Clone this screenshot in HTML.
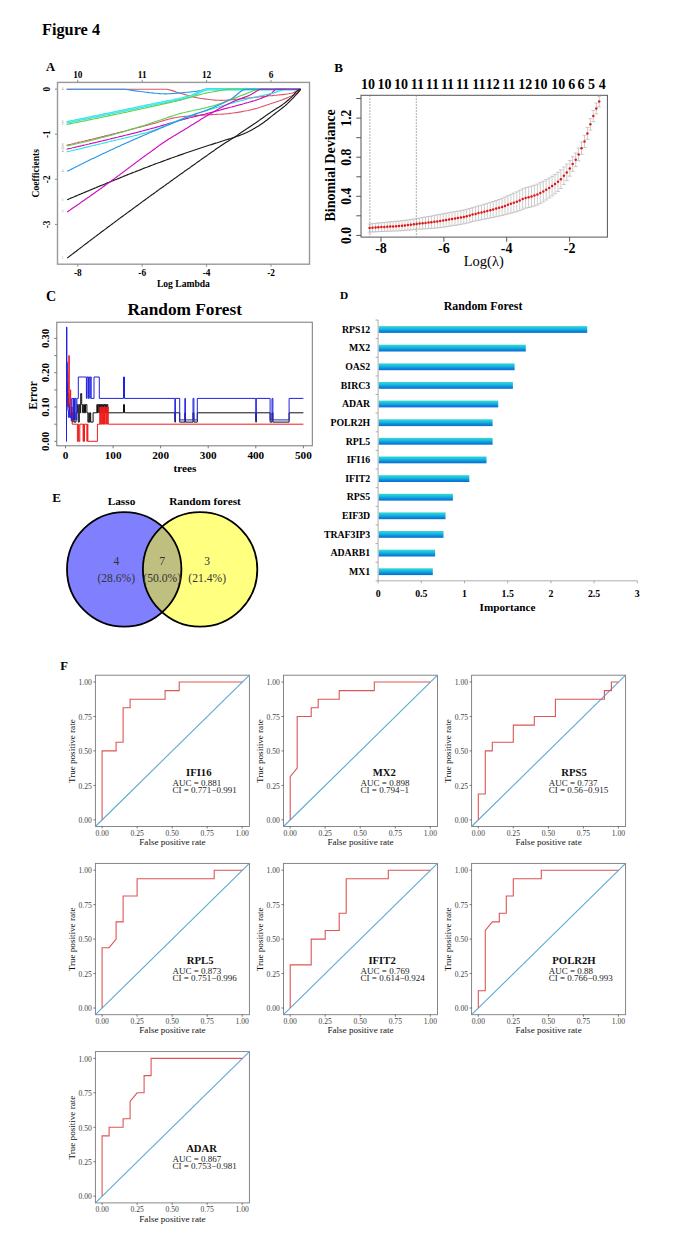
<!DOCTYPE html>
<html><head><meta charset="utf-8"><style>
html,body{margin:0;padding:0;background:#fff;}
svg{display:block;}
text{font-family:"Liberation Serif", serif;}
</style></head><body>
<svg width="685" height="1236" viewBox="0 0 685 1236" font-family='"Liberation Serif", serif'>
<rect width="685" height="1236" fill="#fff"/>
<text x="42" y="34.5" font-size="16.3" font-weight="bold">Figure 4</text>
<text x="46" y="70.5" font-size="12.6" font-weight="bold">A</text>
<rect x="57.5" y="82.4" width="252.0" height="181.79999999999998" fill="none" stroke="#999" stroke-width="1.4"/>
<line x1="77.8" y1="264.2" x2="77.8" y2="266.7" stroke="#8a8a8a"/>
<text x="77.8" y="275.8" font-size="9.3" font-weight="bold" text-anchor="middle">-8</text>
<line x1="142.2" y1="264.2" x2="142.2" y2="266.7" stroke="#8a8a8a"/>
<text x="142.2" y="275.8" font-size="9.3" font-weight="bold" text-anchor="middle">-6</text>
<line x1="206.6" y1="264.2" x2="206.6" y2="266.7" stroke="#8a8a8a"/>
<text x="206.6" y="275.8" font-size="9.3" font-weight="bold" text-anchor="middle">-4</text>
<line x1="271" y1="264.2" x2="271" y2="266.7" stroke="#8a8a8a"/>
<text x="271" y="275.8" font-size="9.3" font-weight="bold" text-anchor="middle">-2</text>
<line x1="77.8" y1="82.4" x2="77.8" y2="79.9" stroke="#8a8a8a"/>
<text x="77.8" y="77.5" font-size="9.3" font-weight="bold" text-anchor="middle">10</text>
<line x1="142.2" y1="82.4" x2="142.2" y2="79.9" stroke="#8a8a8a"/>
<text x="142.2" y="77.5" font-size="9.3" font-weight="bold" text-anchor="middle">11</text>
<line x1="206.6" y1="82.4" x2="206.6" y2="79.9" stroke="#8a8a8a"/>
<text x="206.6" y="77.5" font-size="9.3" font-weight="bold" text-anchor="middle">12</text>
<line x1="271" y1="82.4" x2="271" y2="79.9" stroke="#8a8a8a"/>
<text x="271" y="77.5" font-size="9.3" font-weight="bold" text-anchor="middle">6</text>
<line x1="57.5" y1="89.1" x2="55.0" y2="89.1" stroke="#8a8a8a"/>
<text transform="translate(50.3,89.1) rotate(-90)" font-size="9.3" font-weight="bold" text-anchor="middle">0</text>
<line x1="57.5" y1="134.2" x2="55.0" y2="134.2" stroke="#8a8a8a"/>
<text transform="translate(50.3,134.2) rotate(-90)" font-size="9.3" font-weight="bold" text-anchor="middle">-1</text>
<line x1="57.5" y1="179.3" x2="55.0" y2="179.3" stroke="#8a8a8a"/>
<text transform="translate(50.3,179.3) rotate(-90)" font-size="9.3" font-weight="bold" text-anchor="middle">-2</text>
<line x1="57.5" y1="224.4" x2="55.0" y2="224.4" stroke="#8a8a8a"/>
<text transform="translate(50.3,224.4) rotate(-90)" font-size="9.3" font-weight="bold" text-anchor="middle">-3</text>
<text transform="translate(39,173.3) rotate(-90)" font-size="9.6" font-weight="bold" text-anchor="middle">Coefficients</text>
<text x="183.4" y="287" font-size="9.6" font-weight="bold" text-anchor="middle">Log Lambda</text>
<polyline points="66.6,89.2 68.1,89.2 69.6,89.2 71.1,89.2 72.6,89.2 74.1,89.2 75.6,89.2 77.1,89.2 78.6,89.2 80.1,89.2 81.6,89.2 83.1,89.2 84.6,89.2 86.1,89.2 87.6,89.2 89.1,89.2 90.6,89.2 92.1,89.2 93.6,89.2 95.1,89.2 96.6,89.2 98.1,89.2 99.6,89.2 101.1,89.2 102.6,89.2 104.1,89.2 105.6,89.2 107.1,89.2 108.6,89.2 110.1,89.2 111.6,89.2 113.1,89.2 114.6,89.2 116.1,89.2 117.6,89.2 119.1,89.2 120.6,89.2 122.1,89.2 123.6,89.2 125.1,89.2 126.6,89.2 128.1,89.2 129.6,89.2 131.1,89.2 132.6,89.2 134.1,89.2 135.6,89.2 137.1,89.2 138.6,89.2 140.1,89.2 141.6,89.2 143.1,89.2 144.6,89.2 146.1,89.2 147.6,89.2 149.1,89.2 150.6,89.2 152.1,89.2 153.6,89.2 155.1,89.2 156.6,89.2 158.1,89.2 159.6,89.2 161.1,89.2 162.6,89.2 164.1,89.2 165.6,89.2 167.1,89.3 168.6,89.6 170.1,90 171.6,90.4 173.1,90.9 174.6,91.4 176.1,92 177.6,92.5 179.1,93 180.6,93.4 182.1,93.8 183.6,94.2 185.1,94.6 186.6,95 188.1,95.5 189.6,95.9 191.1,96.3 192.6,96.7 194.1,97.1 195.6,97.4 197.1,97.7 198.6,98 200.1,98.3 201.6,98.5 203.1,98.7 204.6,98.9 206.1,99.1 207.6,99.3 209.1,99.5 210.6,99.7 212.1,99.8 213.6,100 215.1,100.1 216.6,100.2 218.1,100.2 219.6,100.3 221.1,100.3 222.6,100.3 224.1,100.2 225.6,100.2 227.1,100.1 228.6,100 230.1,99.9 231.6,99.8 233.1,99.6 234.6,99.5 236.1,99.3 237.6,99.2 239.1,99 240.6,98.8 242.1,98.6 243.6,98.5 245.1,98.3 246.6,98.1 248.1,98 249.6,97.8 251.1,97.7 252.6,97.6 254.1,97.4 255.6,97.3 257.1,97.1 258.6,96.9 260.1,96.8 261.6,96.6 263.1,96.5 264.6,96.3 266.1,96.2 267.6,96 269.1,95.8 270.6,95.7 272.1,95.6 273.6,95.4 275.1,95.3 276.6,95.2 278.1,95 279.6,94.9 281.1,94.8 282.6,94.6 284.1,94.4 285.6,94.2 287.1,94 288.6,93.8 290.1,93.5 291.6,93.2 293.1,92.7 294.6,92.1 296.1,91.4 297.6,90.7 299.1,89.9 300.5,89.2" fill="none" stroke="#DF536B" stroke-width="1.15" stroke-linejoin="round"/>
<polyline points="66.6,89.2 68.1,89.2 69.6,89.2 71.1,89.2 72.6,89.2 74.1,89.2 75.6,89.2 77.1,89.2 78.6,89.2 80.1,89.2 81.6,89.2 83.1,89.2 84.6,89.2 86.1,89.2 87.6,89.2 89.1,89.2 90.6,89.2 92.1,89.2 93.6,89.2 95.1,89.2 96.6,89.2 98.1,89.2 99.6,89.2 101.1,89.2 102.6,89.2 104.1,89.2 105.6,89.2 107.1,89.2 108.6,89.2 110.1,89.2 111.6,89.2 113.1,89.2 114.6,89.2 116.1,89.2 117.6,89.2 119.1,89.2 120.6,89.2 122.1,89.2 123.6,89.2 125.1,89.3 126.6,89.5 128.1,89.7 129.6,89.9 131.1,90.1 132.6,90.4 134.1,90.6 135.6,90.9 137.1,91.1 138.6,91.3 140.1,91.5 141.6,91.7 143.1,91.8 144.6,92 146.1,92.2 147.6,92.4 149.1,92.6 150.6,92.7 152.1,92.9 153.6,93.1 155.1,93.2 156.6,93.3 158.1,93.5 159.6,93.6 161.1,93.7 162.6,93.7 164.1,93.8 165.6,93.8 167.1,93.8 168.6,93.7 170.1,93.7 171.6,93.6 173.1,93.5 174.6,93.4 176.1,93.2 177.6,93.1 179.1,93 180.6,92.9 182.1,92.7 183.6,92.6 185.1,92.5 186.6,92.3 188.1,92.2 189.6,92 191.1,91.9 192.6,91.7 194.1,91.5 195.6,91.4 197.1,91.2 198.6,90.9 200.1,90.7 201.6,90.4 203.1,90.1 204.6,89.9 206.1,89.7 207.6,89.5 209.1,89.4 210.6,89.4 212.1,89.4 213.6,89.4 215.1,89.4 216.6,89.4 218.1,89.4 219.6,89.4 221.1,89.3 222.6,89.3 224.1,89.3 225.6,89.3 227.1,89.3 228.6,89.3 230.1,89.3 231.6,89.3 233.1,89.3 234.6,89.3 236.1,89.3 237.6,89.3 239.1,89.3 240.6,89.3 242.1,89.3 243.6,89.3 245.1,89.3 246.6,89.3 248.1,89.3 249.6,89.2 251.1,89.2 252.6,89.2 254.1,89.2 255.6,89.2 257.1,89.2 258.6,89.2 260.1,89.2 261.6,89.2 263.1,89.2 264.6,89.2 266.1,89.2 267.6,89.2 269.1,89.2 270.6,89.2 272.1,89.2 273.6,89.2 275.1,89.2 276.6,89.2 278.1,89.2 279.6,89.2 281.1,89.2 282.6,89.2 284.1,89.2 285.6,89.2 287.1,89.2 288.6,89.2 290.1,89.2 291.6,89.2 293.1,89.2 294.6,89.2 296.1,89.2 297.6,89.2 299.1,89.2 300.5,89.2" fill="none" stroke="#2297E6" stroke-width="1.15" stroke-linejoin="round"/>
<polyline points="66.6,122.4 68.1,122.1 69.6,121.8 71.1,121.5 72.6,121.2 74.1,120.9 75.6,120.5 77.1,120.2 78.6,119.9 80.1,119.6 81.6,119.3 83.1,119 84.6,118.7 86.1,118.4 87.6,118.1 89.1,117.7 90.6,117.4 92.1,117.1 93.6,116.8 95.1,116.5 96.6,116.2 98.1,115.9 99.6,115.6 101.1,115.3 102.6,114.9 104.1,114.6 105.6,114.3 107.1,114 108.6,113.7 110.1,113.4 111.6,113.1 113.1,112.8 114.6,112.4 116.1,112.1 117.6,111.8 119.1,111.5 120.6,111.2 122.1,110.9 123.6,110.6 125.1,110.2 126.6,109.9 128.1,109.6 129.6,109.3 131.1,109 132.6,108.7 134.1,108.4 135.6,108.1 137.1,107.7 138.6,107.4 140.1,107.1 141.6,106.8 143.1,106.5 144.6,106.1 146.1,105.8 147.6,105.5 149.1,105.2 150.6,104.9 152.1,104.6 153.6,104.2 155.1,103.9 156.6,103.6 158.1,103.3 159.6,103 161.1,102.8 162.6,102.5 164.1,102.2 165.6,101.9 167.1,101.6 168.6,101.3 170.1,101 171.6,100.7 173.1,100.4 174.6,100 176.1,99.7 177.6,99.4 179.1,99.1 180.6,98.7 182.1,98.4 183.6,98 185.1,97.6 186.6,97.2 188.1,96.8 189.6,96.4 191.1,96 192.6,95.4 194.1,94.7 195.6,94 197.1,93.3 198.6,92.5 200.1,91.8 201.6,91.1 203.1,90.5 204.6,89.9 206.1,89.5 207.6,89.3 209.1,89.2 210.6,89.2 212.1,89.2 213.6,89.2 215.1,89.2 216.6,89.2 218.1,89.2 219.6,89.2 221.1,89.2 222.6,89.2 224.1,89.2 225.6,89.2 227.1,89.2 228.6,89.2 230.1,89.2 231.6,89.2 233.1,89.2 234.6,89.2 236.1,89.2 237.6,89.2 239.1,89.2 240.6,89.2 242.1,89.2 243.6,89.2 245.1,89.2 246.6,89.2 248.1,89.2 249.6,89.2 251.1,89.2 252.6,89.2 254.1,89.2 255.6,89.2 257.1,89.2 258.6,89.2 260.1,89.2 261.6,89.2 263.1,89.2 264.6,89.2 266.1,89.2 267.6,89.2 269.1,89.2 270.6,89.2 272.1,89.2 273.6,89.2 275.1,89.2 276.6,89.2 278.1,89.2 279.6,89.2 281.1,89.2 282.6,89.2 284.1,89.2 285.6,89.2 287.1,89.2 288.6,89.2 290.1,89.2 291.6,89.2 293.1,89.2 294.6,89.2 296.1,89.2 297.6,89.2 299.1,89.2 300.5,89.2" fill="none" stroke="#28E2E5" stroke-width="2.5" stroke-linejoin="round"/>
<polyline points="66.6,122.4 68.1,122.1 69.6,121.8 71.1,121.5 72.6,121.2 74.1,120.9 75.6,120.5 77.1,120.2 78.6,119.9 80.1,119.6 81.6,119.3 83.1,119 84.6,118.7 86.1,118.4 87.6,118.1 89.1,117.7 90.6,117.4 92.1,117.1 93.6,116.8 95.1,116.5 96.6,116.2 98.1,115.9 99.6,115.6 101.1,115.3 102.6,114.9 104.1,114.6 105.6,114.3 107.1,114 108.6,113.7 110.1,113.4 111.6,113.1 113.1,112.8 114.6,112.4 116.1,112.1 117.6,111.8 119.1,111.5 120.6,111.2 122.1,110.9 123.6,110.6 125.1,110.2 126.6,109.9 128.1,109.6 129.6,109.3 131.1,109 132.6,108.7 134.1,108.4 135.6,108.1 137.1,107.7 138.6,107.4 140.1,107.1 141.6,106.8 143.1,106.5 144.6,106.1 146.1,105.8 147.6,105.5 149.1,105.2 150.6,104.9 152.1,104.6 153.6,104.2 155.1,103.9 156.6,103.6 158.1,103.3 159.6,103 161.1,102.8 162.6,102.5 164.1,102.2 165.6,101.9 167.1,101.6 168.6,101.3 170.1,101 171.6,100.7 173.1,100.4 174.6,100 176.1,99.7 177.6,99.4 179.1,99.1 180.6,98.7 182.1,98.4 183.6,98 185.1,97.6 186.6,97.2 188.1,96.8 189.6,96.4 191.1,96 192.6,95.4 194.1,94.7 195.6,94 197.1,93.3 198.6,92.5 200.1,91.8 201.6,91.1 203.1,90.5 204.6,89.9 206.1,89.5 207.6,89.3 209.1,89.2 210.6,89.2 212.1,89.2 213.6,89.2 215.1,89.2 216.6,89.2 218.1,89.2 219.6,89.2 221.1,89.2 222.6,89.2 224.1,89.2 225.6,89.2 227.1,89.2 228.6,89.2 230.1,89.2 231.6,89.2 233.1,89.2 234.6,89.2 236.1,89.2 237.6,89.2 239.1,89.2 240.6,89.2 242.1,89.2 243.6,89.2 245.1,89.2 246.6,89.2 248.1,89.2 249.6,89.2 251.1,89.2 252.6,89.2 254.1,89.2 255.6,89.2 257.1,89.2 258.6,89.2 260.1,89.2 261.6,89.2 263.1,89.2 264.6,89.2 266.1,89.2 267.6,89.2 269.1,89.2 270.6,89.2 272.1,89.2 273.6,89.2 275.1,89.2 276.6,89.2 278.1,89.2 279.6,89.2 281.1,89.2 282.6,89.2 284.1,89.2 285.6,89.2 287.1,89.2 288.6,89.2 290.1,89.2 291.6,89.2 293.1,89.2 294.6,89.2 296.1,89.2 297.6,89.2 299.1,89.2 300.5,89.2" fill="none" stroke="#b8f4f4" stroke-width="0.5" stroke-linejoin="round"/>
<polyline points="66.6,124.5 68.1,124.2 69.6,123.9 71.1,123.6 72.6,123.3 74.1,123 75.6,122.7 77.1,122.4 78.6,122.1 80.1,121.8 81.6,121.5 83.1,121.2 84.6,120.9 86.1,120.6 87.6,120.2 89.1,119.9 90.6,119.6 92.1,119.3 93.6,119 95.1,118.7 96.6,118.4 98.1,118.1 99.6,117.8 101.1,117.5 102.6,117.1 104.1,116.8 105.6,116.5 107.1,116.2 108.6,115.9 110.1,115.6 111.6,115.3 113.1,114.9 114.6,114.6 116.1,114.3 117.6,114 119.1,113.7 120.6,113.4 122.1,113 123.6,112.7 125.1,112.4 126.6,112.1 128.1,111.8 129.6,111.4 131.1,111.1 132.6,110.8 134.1,110.5 135.6,110.1 137.1,109.8 138.6,109.5 140.1,109.2 141.6,108.8 143.1,108.5 144.6,108.2 146.1,107.9 147.6,107.5 149.1,107.2 150.6,106.9 152.1,106.5 153.6,106.2 155.1,105.9 156.6,105.5 158.1,105.2 159.6,104.9 161.1,104.5 162.6,104.2 164.1,103.9 165.6,103.5 167.1,103.2 168.6,102.9 170.1,102.5 171.6,102.2 173.1,101.8 174.6,101.5 176.1,101.1 177.6,100.8 179.1,100.4 180.6,100.1 182.1,99.7 183.6,99.3 185.1,98.9 186.6,98.5 188.1,98 189.6,97.6 191.1,97.2 192.6,96.7 194.1,96.3 195.6,95.9 197.1,95.4 198.6,95 200.1,94.6 201.6,94.2 203.1,93.8 204.6,93.5 206.1,93.1 207.6,92.8 209.1,92.5 210.6,92.2 212.1,92 213.6,91.7 215.1,91.4 216.6,91.1 218.1,90.9 219.6,90.6 221.1,90.3 222.6,90.1 224.1,89.9 225.6,89.7 227.1,89.5 228.6,89.4 230.1,89.3 231.6,89.2 233.1,89.2 234.6,89.2 236.1,89.2 237.6,89.2 239.1,89.2 240.6,89.2 242.1,89.2 243.6,89.2 245.1,89.2 246.6,89.2 248.1,89.2 249.6,89.2 251.1,89.2 252.6,89.2 254.1,89.2 255.6,89.2 257.1,89.2 258.6,89.2 260.1,89.2 261.6,89.2 263.1,89.2 264.6,89.2 266.1,89.2 267.6,89.2 269.1,89.2 270.6,89.2 272.1,89.2 273.6,89.2 275.1,89.2 276.6,89.2 278.1,89.2 279.6,89.2 281.1,89.2 282.6,89.2 284.1,89.2 285.6,89.2 287.1,89.2 288.6,89.2 290.1,89.2 291.6,89.2 293.1,89.2 294.6,89.2 296.1,89.2 297.6,89.2 299.1,89.2 300.5,89.2" fill="none" stroke="#61D04F" stroke-width="1.15" stroke-linejoin="round"/>
<polyline points="66.6,145.2 68.1,144.9 69.6,144.5 71.1,144.2 72.6,143.8 74.1,143.5 75.6,143.1 77.1,142.8 78.6,142.4 80.1,142 81.6,141.7 83.1,141.3 84.6,141 86.1,140.6 87.6,140.3 89.1,139.9 90.6,139.5 92.1,139.2 93.6,138.8 95.1,138.5 96.6,138.1 98.1,137.7 99.6,137.4 101.1,137 102.6,136.6 104.1,136.3 105.6,135.9 107.1,135.5 108.6,135.1 110.1,134.8 111.6,134.4 113.1,134 114.6,133.6 116.1,133.3 117.6,132.9 119.1,132.5 120.6,132.1 122.1,131.7 123.6,131.3 125.1,131 126.6,130.6 128.1,130.2 129.6,129.8 131.1,129.4 132.6,129 134.1,128.6 135.6,128.2 137.1,127.8 138.6,127.4 140.1,127.1 141.6,126.7 143.1,126.3 144.6,125.9 146.1,125.5 147.6,125.1 149.1,124.7 150.6,124.3 152.1,123.9 153.6,123.5 155.1,123.1 156.6,122.7 158.1,122.2 159.6,121.8 161.1,121.3 162.6,120.9 164.1,120.4 165.6,120 167.1,119.6 168.6,119.2 170.1,118.8 171.6,118.4 173.1,118.1 174.6,117.8 176.1,117.5 177.6,117.2 179.1,117 180.6,116.8 182.1,116.7 183.6,116.5 185.1,116.4 186.6,116.3 188.1,116.1 189.6,116 191.1,115.9 192.6,115.8 194.1,115.7 195.6,115.6 197.1,115.5 198.6,115.4 200.1,115.3 201.6,115.2 203.1,115.1 204.6,115.1 206.1,115 207.6,114.9 209.1,114.8 210.6,114.7 212.1,114.6 213.6,114.5 215.1,114.5 216.6,114.4 218.1,114.3 219.6,114.2 221.1,114.2 222.6,114.1 224.1,114 225.6,113.9 227.1,113.7 228.6,113.6 230.1,113.4 231.6,113.2 233.1,113 234.6,112.8 236.1,112.6 237.6,112.4 239.1,112.1 240.6,111.9 242.1,111.6 243.6,111.3 245.1,111 246.6,110.8 248.1,110.5 249.6,110.1 251.1,109.8 252.6,109.4 254.1,109 255.6,108.6 257.1,108.2 258.6,107.7 260.1,107.3 261.6,106.8 263.1,106.3 264.6,105.8 266.1,105.3 267.6,104.8 269.1,104.3 270.6,103.8 272.1,103.3 273.6,102.8 275.1,102.3 276.6,101.8 278.1,101.3 279.6,100.8 281.1,100.2 282.6,99.7 284.1,99.1 285.6,98.5 287.1,97.9 288.6,97.3 290.1,96.6 291.6,96 293.1,95.3 294.6,94.5 296.1,93.7 297.6,92.6 299.1,91.3 300.5,89.2" fill="none" stroke="#DF536B" stroke-width="1.15" stroke-linejoin="round"/>
<polyline points="66.6,146 68.1,145.7 69.6,145.4 71.1,145 72.6,144.7 74.1,144.4 75.6,144 77.1,143.7 78.6,143.3 80.1,143 81.6,142.7 83.1,142.3 84.6,141.9 86.1,141.6 87.6,141.2 89.1,140.9 90.6,140.5 92.1,140.1 93.6,139.8 95.1,139.4 96.6,139 98.1,138.6 99.6,138.2 101.1,137.8 102.6,137.5 104.1,137.1 105.6,136.7 107.1,136.3 108.6,135.9 110.1,135.5 111.6,135.1 113.1,134.7 114.6,134.2 116.1,133.8 117.6,133.4 119.1,133 120.6,132.5 122.1,132.1 123.6,131.7 125.1,131.2 126.6,130.8 128.1,130.3 129.6,129.9 131.1,129.4 132.6,128.9 134.1,128.5 135.6,128 137.1,127.5 138.6,127.1 140.1,126.6 141.6,126.1 143.1,125.7 144.6,125.2 146.1,124.7 147.6,124.3 149.1,123.8 150.6,123.3 152.1,122.8 153.6,122.3 155.1,121.8 156.6,121.3 158.1,120.8 159.6,120.3 161.1,119.8 162.6,119.2 164.1,118.7 165.6,118.2 167.1,117.7 168.6,117.1 170.1,116.6 171.6,116.1 173.1,115.7 174.6,115.2 176.1,114.7 177.6,114.3 179.1,113.8 180.6,113.4 182.1,113 183.6,112.7 185.1,112.3 186.6,112 188.1,111.6 189.6,111.3 191.1,111 192.6,110.7 194.1,110.3 195.6,110 197.1,109.7 198.6,109.4 200.1,109.1 201.6,108.7 203.1,108.4 204.6,108.1 206.1,107.7 207.6,107.3 209.1,106.9 210.6,106.5 212.1,106.1 213.6,105.7 215.1,105.2 216.6,104.7 218.1,104.2 219.6,103.7 221.1,103.2 222.6,102.7 224.1,102.1 225.6,101.6 227.1,101 228.6,100.5 230.1,99.9 231.6,99.3 233.1,98.7 234.6,98.1 236.1,97.6 237.6,97 239.1,96.4 240.6,95.8 242.1,95.2 243.6,94.6 245.1,94.1 246.6,93.5 248.1,92.9 249.6,92.3 251.1,91.7 252.6,91 254.1,90.3 255.6,89.7 257.1,89.3 258.6,89.2 260.1,89.2 261.6,89.2 263.1,89.2 264.6,89.2 266.1,89.2 267.6,89.2 269.1,89.2 270.6,89.2 272.1,89.2 273.6,89.2 275.1,89.2 276.6,89.2 278.1,89.2 279.6,89.2 281.1,89.2 282.6,89.2 284.1,89.2 285.6,89.2 287.1,89.2 288.6,89.2 290.1,89.2 291.6,89.2 293.1,89.2 294.6,89.2 296.1,89.2 297.6,89.2 299.1,89.2 300.5,89.2" fill="none" stroke="#61D04F" stroke-width="1.15" stroke-linejoin="round"/>
<polyline points="66.6,149.2 68.1,148.9 69.6,148.5 71.1,148.2 72.6,147.8 74.1,147.5 75.6,147.1 77.1,146.8 78.6,146.4 80.1,146.1 81.6,145.7 83.1,145.4 84.6,145 86.1,144.7 87.6,144.3 89.1,144 90.6,143.6 92.1,143.3 93.6,142.9 95.1,142.6 96.6,142.2 98.1,141.9 99.6,141.5 101.1,141.1 102.6,140.8 104.1,140.4 105.6,140.1 107.1,139.7 108.6,139.3 110.1,139 111.6,138.6 113.1,138.2 114.6,137.9 116.1,137.5 117.6,137.2 119.1,136.8 120.6,136.4 122.1,136.1 123.6,135.7 125.1,135.3 126.6,135 128.1,134.6 129.6,134.2 131.1,133.9 132.6,133.5 134.1,133.1 135.6,132.7 137.1,132.4 138.6,132 140.1,131.6 141.6,131.2 143.1,130.8 144.6,130.4 146.1,130 147.6,129.6 149.1,129.2 150.6,128.8 152.1,128.4 153.6,128 155.1,127.6 156.6,127.1 158.1,126.7 159.6,126.3 161.1,125.8 162.6,125.4 164.1,124.9 165.6,124.5 167.1,124 168.6,123.6 170.1,123.1 171.6,122.7 173.1,122.2 174.6,121.8 176.1,121.4 177.6,121 179.1,120.5 180.6,120.1 182.1,119.7 183.6,119.4 185.1,119 186.6,118.6 188.1,118.2 189.6,117.8 191.1,117.5 192.6,117.1 194.1,116.7 195.6,116.4 197.1,116 198.6,115.6 200.1,115.3 201.6,114.9 203.1,114.5 204.6,114.2 206.1,113.8 207.6,113.4 209.1,113 210.6,112.6 212.1,112.2 213.6,111.8 215.1,111.4 216.6,111 218.1,110.6 219.6,110.2 221.1,109.8 222.6,109.4 224.1,108.9 225.6,108.5 227.1,108.1 228.6,107.7 230.1,107.3 231.6,107 233.1,106.6 234.6,106.2 236.1,105.8 237.6,105.4 239.1,105 240.6,104.6 242.1,104.2 243.6,103.8 245.1,103.3 246.6,102.9 248.1,102.5 249.6,102 251.1,101.6 252.6,101.1 254.1,100.7 255.6,100.2 257.1,99.7 258.6,99.2 260.1,98.7 261.6,98.1 263.1,97.5 264.6,96.9 266.1,96.3 267.6,95.6 269.1,94.8 270.6,93.9 272.1,92.9 273.6,91.1 275.1,89.6 276.6,89.2 278.1,89.2 279.6,89.2 281.1,89.2 282.6,89.2 284.1,89.2 285.6,89.2 287.1,89.2 288.6,89.2 290.1,89.2 291.6,89.2 293.1,89.2 294.6,89.2 296.1,89.2 297.6,89.2 299.1,89.2 300.5,89.2" fill="none" stroke="#CD0BBC" stroke-width="1.15" stroke-linejoin="round"/>
<polyline points="66.6,151.9 68.1,151.5 69.6,151.2 71.1,150.8 72.6,150.5 74.1,150.1 75.6,149.8 77.1,149.4 78.6,149.1 80.1,148.7 81.6,148.4 83.1,148 84.6,147.6 86.1,147.3 87.6,146.9 89.1,146.6 90.6,146.2 92.1,145.8 93.6,145.5 95.1,145.1 96.6,144.8 98.1,144.4 99.6,144 101.1,143.7 102.6,143.3 104.1,142.9 105.6,142.6 107.1,142.2 108.6,141.8 110.1,141.5 111.6,141.1 113.1,140.8 114.6,140.4 116.1,140 117.6,139.7 119.1,139.3 120.6,139 122.1,138.6 123.6,138.3 125.1,138 126.6,137.6 128.1,137.3 129.6,136.9 131.1,136.5 132.6,136.2 134.1,135.8 135.6,135.4 137.1,135.1 138.6,134.7 140.1,134.3 141.6,133.9 143.1,133.5 144.6,133.1 146.1,132.7 147.6,132.2 149.1,131.8 150.6,131.3 152.1,130.8 153.6,130.3 155.1,129.8 156.6,129.3 158.1,128.7 159.6,128.1 161.1,127.5 162.6,126.9 164.1,126.3 165.6,125.7 167.1,125.1 168.6,124.4 170.1,123.8 171.6,123.1 173.1,122.5 174.6,121.8 176.1,121.2 177.6,120.6 179.1,120 180.6,119.3 182.1,118.7 183.6,118.1 185.1,117.5 186.6,117 188.1,116.4 189.6,115.9 191.1,115.4 192.6,114.9 194.1,114.4 195.6,113.9 197.1,113.4 198.6,113 200.1,112.5 201.6,112 203.1,111.6 204.6,111.1 206.1,110.7 207.6,110.2 209.1,109.8 210.6,109.3 212.1,108.9 213.6,108.5 215.1,108 216.6,107.6 218.1,107.2 219.6,106.7 221.1,106.3 222.6,105.9 224.1,105.5 225.6,105 227.1,104.6 228.6,104.2 230.1,103.7 231.6,103.3 233.1,102.9 234.6,102.4 236.1,102 237.6,101.6 239.1,101.2 240.6,100.8 242.1,100.4 243.6,100 245.1,99.6 246.6,99.2 248.1,98.8 249.6,98.4 251.1,98 252.6,97.7 254.1,97.3 255.6,97 257.1,96.7 258.6,96.3 260.1,96 261.6,95.7 263.1,95.4 264.6,95 266.1,94.7 267.6,94.4 269.1,94 270.6,93.7 272.1,93.3 273.6,92.9 275.1,92.4 276.6,91.9 278.1,91.3 279.6,90.7 281.1,90.2 282.6,89.8 284.1,89.5 285.6,89.4 287.1,89.4 288.6,89.3 290.1,89.3 291.6,89.3 293.1,89.2 294.6,89.2 296.1,89.2 297.6,89.2 299.1,89.2 300.5,89.2" fill="none" stroke="#28E2E5" stroke-width="1.15" stroke-linejoin="round"/>
<polyline points="67.2,171.3 68.7,170.5 70.2,169.8 71.7,169 73.2,168.2 74.7,167.5 76.2,166.7 77.7,166 79.2,165.2 80.7,164.5 82.2,163.7 83.7,163 85.2,162.2 86.7,161.5 88.2,160.8 89.7,160 91.2,159.3 92.7,158.6 94.2,157.9 95.7,157.2 97.2,156.4 98.7,155.7 100.2,155 101.7,154.3 103.2,153.6 104.7,152.9 106.2,152.2 107.7,151.5 109.2,150.8 110.7,150.1 112.2,149.4 113.7,148.7 115.2,148 116.7,147.3 118.2,146.6 119.7,146 121.2,145.3 122.7,144.6 124.2,143.9 125.7,143.3 127.2,142.6 128.7,141.9 130.2,141.3 131.7,140.6 133.2,139.9 134.7,139.3 136.2,138.6 137.7,138 139.2,137.3 140.7,136.6 142.2,136 143.7,135.3 145.2,134.7 146.7,134.1 148.2,133.4 149.7,132.8 151.2,132.1 152.7,131.5 154.2,130.9 155.7,130.2 157.2,129.6 158.7,129 160.2,128.3 161.7,127.7 163.2,127.1 164.7,126.5 166.2,125.8 167.7,125.2 169.2,124.6 170.7,124 172.2,123.4 173.7,122.8 175.2,122.2 176.7,121.5 178.2,120.9 179.7,120.3 181.2,119.7 182.7,119.1 184.2,118.5 185.7,117.9 187.2,117.3 188.7,116.7 190.2,116.1 191.7,115.5 193.2,115 194.7,114.4 196.2,113.9 197.7,113.3 199.2,112.8 200.7,112.3 202.2,111.7 203.7,111.2 205.2,110.6 206.7,110.1 208.2,109.5 209.7,108.9 211.2,108.3 212.7,107.7 214.2,107 215.7,106.4 217.2,105.7 218.7,105.1 220.2,104.4 221.7,103.7 223.2,103 224.7,102.2 226.2,101.5 227.7,100.7 229.2,100 230.7,99.2 232.2,98.3 233.7,97.2 235.2,96 236.7,94.7 238.2,93.5 239.7,92.3 241.2,91.2 242.7,90.3 244.2,89.6 245.7,89.2 247.2,89.2 248.7,89.2 250.2,89.2 251.7,89.2 253.2,89.2 254.7,89.2 256.2,89.2 257.7,89.2 259.2,89.2 260.7,89.2 262.2,89.2 263.7,89.2 265.2,89.2 266.7,89.2 268.2,89.2 269.7,89.2 271.2,89.2 272.7,89.2 274.2,89.2 275.7,89.2 277.2,89.2 278.7,89.2 280.2,89.2 281.7,89.2 283.2,89.2 284.7,89.2 286.2,89.2 287.7,89.2 289.2,89.2 290.7,89.2 292.2,89.2 293.7,89.2 295.2,89.2 296.7,89.2 298.2,89.2 299.7,89.2 300.5,89.2" fill="none" stroke="#2297E6" stroke-width="1.15" stroke-linejoin="round"/>
<polyline points="67.2,199.7 68.7,199.1 70.2,198.4 71.7,197.8 73.2,197.2 74.7,196.5 76.2,195.9 77.7,195.3 79.2,194.6 80.7,194 82.2,193.4 83.7,192.7 85.2,192.1 86.7,191.5 88.2,190.9 89.7,190.2 91.2,189.6 92.7,189 94.2,188.4 95.7,187.8 97.2,187.1 98.7,186.5 100.2,185.9 101.7,185.3 103.2,184.7 104.7,184.1 106.2,183.4 107.7,182.8 109.2,182.2 110.7,181.6 112.2,181 113.7,180.4 115.2,179.8 116.7,179.2 118.2,178.6 119.7,178 121.2,177.4 122.7,176.8 124.2,176.1 125.7,175.5 127.2,174.9 128.7,174.3 130.2,173.7 131.7,173.1 133.2,172.5 134.7,172 136.2,171.4 137.7,170.8 139.2,170.2 140.7,169.6 142.2,169 143.7,168.4 145.2,167.8 146.7,167.3 148.2,166.7 149.7,166.1 151.2,165.5 152.7,165 154.2,164.4 155.7,163.8 157.2,163.3 158.7,162.7 160.2,162.2 161.7,161.6 163.2,161.1 164.7,160.5 166.2,160 167.7,159.4 169.2,158.9 170.7,158.3 172.2,157.8 173.7,157.2 175.2,156.7 176.7,156.2 178.2,155.6 179.7,155.1 181.2,154.6 182.7,154.1 184.2,153.5 185.7,153 187.2,152.5 188.7,152 190.2,151.5 191.7,151 193.2,150.5 194.7,150 196.2,149.5 197.7,149 199.2,148.5 200.7,148 202.2,147.5 203.7,147 205.2,146.5 206.7,146 208.2,145.5 209.7,145 211.2,144.6 212.7,144.1 214.2,143.6 215.7,143.1 217.2,142.7 218.7,142.2 220.2,141.7 221.7,141.2 223.2,140.8 224.7,140.3 226.2,139.8 227.7,139.4 229.2,138.9 230.7,138.5 232.2,138 233.7,137.5 235.2,137 236.7,136.5 238.2,135.9 239.7,135.4 241.2,134.8 242.7,134.2 244.2,133.6 245.7,132.9 247.2,132.2 248.7,131.5 250.2,130.7 251.7,129.9 253.2,129.1 254.7,128.2 256.2,127.3 257.7,126.4 259.2,125.5 260.7,124.5 262.2,123.5 263.7,122.5 265.2,121.3 266.7,120.2 268.2,119 269.7,117.8 271.2,116.6 272.7,115.4 274.2,114.2 275.7,113 277.2,111.9 278.7,110.8 280.2,109.6 281.7,108.5 283.2,107.3 284.7,106.1 286.2,104.8 287.7,103.4 289.2,101.9 290.7,100.4 292.2,98.9 293.7,97.3 295.2,95.7 296.7,94.1 298.2,92.5 299.7,90.6 300.5,89.2" fill="none" stroke="#1a1a1a" stroke-width="1.15" stroke-linejoin="round"/>
<polyline points="67.2,211.9 68.7,210.9 70.2,209.9 71.7,208.8 73.2,207.8 74.7,206.8 76.2,205.8 77.7,204.7 79.2,203.7 80.7,202.6 82.2,201.6 83.7,200.6 85.2,199.5 86.7,198.5 88.2,197.4 89.7,196.4 91.2,195.3 92.7,194.3 94.2,193.2 95.7,192.1 97.2,191.1 98.7,190 100.2,188.9 101.7,187.9 103.2,186.8 104.7,185.7 106.2,184.6 107.7,183.6 109.2,182.5 110.7,181.4 112.2,180.3 113.7,179.2 115.2,178.1 116.7,177 118.2,175.9 119.7,174.8 121.2,173.6 122.7,172.5 124.2,171.4 125.7,170.3 127.2,169.1 128.7,168 130.2,166.9 131.7,165.8 133.2,164.6 134.7,163.5 136.2,162.4 137.7,161.3 139.2,160.1 140.7,159 142.2,157.9 143.7,156.8 145.2,155.7 146.7,154.6 148.2,153.6 149.7,152.5 151.2,151.4 152.7,150.3 154.2,149.2 155.7,148.1 157.2,147 158.7,145.9 160.2,144.8 161.7,143.8 163.2,142.7 164.7,141.7 166.2,140.7 167.7,139.7 169.2,138.8 170.7,137.9 172.2,136.9 173.7,136.1 175.2,135.2 176.7,134.3 178.2,133.4 179.7,132.5 181.2,131.6 182.7,130.7 184.2,129.7 185.7,128.8 187.2,127.9 188.7,126.9 190.2,126 191.7,125.1 193.2,124.2 194.7,123.2 196.2,122.3 197.7,121.4 199.2,120.5 200.7,119.5 202.2,118.6 203.7,117.7 205.2,116.8 206.7,115.9 208.2,115.1 209.7,114.2 211.2,113.3 212.7,112.4 214.2,111.6 215.7,110.7 217.2,109.8 218.7,109 220.2,108.1 221.7,107.3 223.2,106.4 224.7,105.6 226.2,104.9 227.7,104.1 229.2,103.4 230.7,102.7 232.2,102 233.7,101.4 235.2,100.8 236.7,100.2 238.2,99.6 239.7,99.1 241.2,98.5 242.7,97.9 244.2,97.4 245.7,96.8 247.2,96.2 248.7,95.6 250.2,94.9 251.7,94.1 253.2,93.2 254.7,92.3 256.2,91.3 257.7,90.5 259.2,89.8 260.7,89.3 262.2,89.2 263.7,89.2 265.2,89.2 266.7,89.2 268.2,89.2 269.7,89.2 271.2,89.2 272.7,89.2 274.2,89.2 275.7,89.2 277.2,89.2 278.7,89.2 280.2,89.2 281.7,89.2 283.2,89.2 284.7,89.2 286.2,89.2 287.7,89.2 289.2,89.2 290.7,89.2 292.2,89.2 293.7,89.2 295.2,89.2 296.7,89.2 298.2,89.2 299.7,89.2 300.5,89.2" fill="none" stroke="#CD0BBC" stroke-width="1.15" stroke-linejoin="round"/>
<polyline points="67.2,258.1 68.7,256.9 70.2,255.8 71.7,254.6 73.2,253.5 74.7,252.3 76.2,251.2 77.7,250 79.2,248.9 80.7,247.7 82.2,246.6 83.7,245.4 85.2,244.3 86.7,243.2 88.2,242 89.7,240.9 91.2,239.8 92.7,238.6 94.2,237.5 95.7,236.4 97.2,235.2 98.7,234.1 100.2,233 101.7,231.8 103.2,230.7 104.7,229.6 106.2,228.5 107.7,227.3 109.2,226.2 110.7,225.1 112.2,224 113.7,222.9 115.2,221.8 116.7,220.6 118.2,219.5 119.7,218.4 121.2,217.3 122.7,216.2 124.2,215.1 125.7,214 127.2,212.9 128.7,211.8 130.2,210.7 131.7,209.6 133.2,208.5 134.7,207.4 136.2,206.3 137.7,205.2 139.2,204.1 140.7,203 142.2,201.9 143.7,200.8 145.2,199.7 146.7,198.6 148.2,197.5 149.7,196.4 151.2,195.3 152.7,194.3 154.2,193.2 155.7,192.1 157.2,191 158.7,189.9 160.2,188.8 161.7,187.8 163.2,186.7 164.7,185.6 166.2,184.5 167.7,183.4 169.2,182.4 170.7,181.3 172.2,180.2 173.7,179.1 175.2,178.1 176.7,177 178.2,175.9 179.7,174.8 181.2,173.8 182.7,172.7 184.2,171.6 185.7,170.6 187.2,169.5 188.7,168.4 190.2,167.4 191.7,166.3 193.2,165.2 194.7,164.2 196.2,163.1 197.7,162 199.2,161 200.7,159.9 202.2,158.8 203.7,157.8 205.2,156.7 206.7,155.7 208.2,154.6 209.7,153.5 211.2,152.5 212.7,151.4 214.2,150.4 215.7,149.3 217.2,148.3 218.7,147.3 220.2,146.3 221.7,145.3 223.2,144.3 224.7,143.3 226.2,142.3 227.7,141.4 229.2,140.5 230.7,139.6 232.2,138.6 233.7,137.7 235.2,136.7 236.7,135.7 238.2,134.6 239.7,133.5 241.2,132.5 242.7,131.5 244.2,130.5 245.7,129.5 247.2,128.6 248.7,127.6 250.2,126.6 251.7,125.6 253.2,124.6 254.7,123.6 256.2,122.5 257.7,121.5 259.2,120.4 260.7,119.3 262.2,118.3 263.7,117.2 265.2,116.1 266.7,115.1 268.2,114 269.7,113 271.2,111.9 272.7,110.9 274.2,110 275.7,109.1 277.2,108.1 278.7,107.2 280.2,106.2 281.7,105.2 283.2,104.1 284.7,103 286.2,101.8 287.7,100.5 289.2,99.2 290.7,97.8 292.2,96.3 293.7,94.7 295.2,92.8 296.7,91.3 298.2,90.3 299.7,89.5 300.5,89.2" fill="none" stroke="#1a1a1a" stroke-width="1.15" stroke-linejoin="round"/>
<text x="62.6" y="90.3" font-size="3.4" fill="#888" text-anchor="middle">4</text>
<text x="62.6" y="122.8" font-size="3.4" fill="#888" text-anchor="middle">2</text>
<text x="62.6" y="124.5" font-size="3.4" fill="#888" text-anchor="middle">2</text>
<text x="62.6" y="146.4" font-size="3.4" fill="#888" text-anchor="middle">8</text>
<text x="62.6" y="148.9" font-size="3.4" fill="#888" text-anchor="middle">10</text>
<text x="62.6" y="151.7" font-size="3.4" fill="#888" text-anchor="middle">4</text>
<text x="62.6" y="172.4" font-size="3.4" fill="#888" text-anchor="middle">4</text>
<text x="62.6" y="200.8" font-size="3.4" fill="#888" text-anchor="middle">1</text>
<text x="62.6" y="213" font-size="3.4" fill="#888" text-anchor="middle">7</text>
<text x="62.6" y="259.2" font-size="3.4" fill="#888" text-anchor="middle">1</text>
<text x="334.3" y="71.6" font-size="13" font-weight="bold">B</text>
<rect x="361" y="95.3" width="246.39999999999998" height="141.8" fill="none" stroke="#555" stroke-width="1"/>
<line x1="381" y1="237.1" x2="381" y2="241.7" stroke="#555"/>
<text x="381" y="253.3" font-size="14" font-weight="bold" text-anchor="middle">-8</text>
<line x1="443.9" y1="237.1" x2="443.9" y2="241.7" stroke="#555"/>
<text x="443.9" y="253.3" font-size="14" font-weight="bold" text-anchor="middle">-6</text>
<line x1="506.7" y1="237.1" x2="506.7" y2="241.7" stroke="#555"/>
<text x="506.7" y="253.3" font-size="14" font-weight="bold" text-anchor="middle">-4</text>
<line x1="569.6" y1="237.1" x2="569.6" y2="241.7" stroke="#555"/>
<text x="569.6" y="253.3" font-size="14" font-weight="bold" text-anchor="middle">-2</text>
<line x1="361" y1="235.4" x2="356.3" y2="235.4" stroke="#555"/>
<line x1="361" y1="215.8" x2="356.3" y2="215.8" stroke="#555"/>
<line x1="361" y1="196.3" x2="356.3" y2="196.3" stroke="#555"/>
<line x1="361" y1="176.8" x2="356.3" y2="176.8" stroke="#555"/>
<line x1="361" y1="157.2" x2="356.3" y2="157.2" stroke="#555"/>
<line x1="361" y1="137.7" x2="356.3" y2="137.7" stroke="#555"/>
<line x1="361" y1="118.1" x2="356.3" y2="118.1" stroke="#555"/>
<line x1="361" y1="98.5" x2="356.3" y2="98.5" stroke="#555"/>
<text transform="translate(351,235.4) rotate(-90)" font-size="13.6" font-weight="bold" text-anchor="middle">0.0</text>
<text transform="translate(351,196.3) rotate(-90)" font-size="13.6" font-weight="bold" text-anchor="middle">0.4</text>
<text transform="translate(351,157.2) rotate(-90)" font-size="13.6" font-weight="bold" text-anchor="middle">0.8</text>
<text transform="translate(351,118.1) rotate(-90)" font-size="13.6" font-weight="bold" text-anchor="middle">1.2</text>
<text transform="translate(335,165.4) rotate(-90)" font-size="14" font-weight="bold" text-anchor="middle">Binomial Deviance</text>
<text x="483.8" y="266.3" font-size="14.5" text-anchor="middle">Log(λ)</text>
<text x="368" y="89" font-size="14" font-weight="bold" text-anchor="middle">10</text>
<text x="384.6" y="89" font-size="14" font-weight="bold" text-anchor="middle">10</text>
<text x="400.9" y="89" font-size="14" font-weight="bold" text-anchor="middle">10</text>
<text x="417.4" y="89" font-size="14" font-weight="bold" text-anchor="middle">11</text>
<text x="432.4" y="89" font-size="14" font-weight="bold" text-anchor="middle">11</text>
<text x="447.5" y="89" font-size="14" font-weight="bold" text-anchor="middle">11</text>
<text x="462.7" y="89" font-size="14" font-weight="bold" text-anchor="middle">11</text>
<text x="478.8" y="89" font-size="14" font-weight="bold" text-anchor="middle">11</text>
<text x="492.8" y="89" font-size="14" font-weight="bold" text-anchor="middle">12</text>
<text x="508.6" y="89" font-size="14" font-weight="bold" text-anchor="middle">11</text>
<text x="525.3" y="89" font-size="14" font-weight="bold" text-anchor="middle">12</text>
<text x="540.4" y="89" font-size="14" font-weight="bold" text-anchor="middle">10</text>
<text x="558.2" y="89" font-size="14" font-weight="bold" text-anchor="middle">10</text>
<text x="571.7" y="89" font-size="14" font-weight="bold" text-anchor="middle">6</text>
<text x="581" y="89" font-size="14" font-weight="bold" text-anchor="middle">6</text>
<text x="591.5" y="89" font-size="14" font-weight="bold" text-anchor="middle">5</text>
<text x="602.2" y="89" font-size="14" font-weight="bold" text-anchor="middle">4</text>
<line x1="369.9" y1="95.3" x2="369.9" y2="237.1" stroke="#777" stroke-width="0.8" stroke-dasharray="1.5,1.5"/>
<line x1="416.3" y1="95.3" x2="416.3" y2="237.1" stroke="#777" stroke-width="0.8" stroke-dasharray="1.5,1.5"/>
<path d="M369.6 224V232.2M367.6 224h4M367.6 232.2h4M372.5 223.6V232M370.5 223.6h4M370.5 232h4M375.5 223.3V231.8M373.5 223.3h4M373.5 231.8h4M378.4 223V231.7M376.4 223h4M376.4 231.7h4M381.4 222.7V231.5M379.4 222.7h4M379.4 231.5h4M384.3 222.4V231.4M382.3 222.4h4M382.3 231.4h4M387.3 222.1V231.3M385.3 222.1h4M385.3 231.3h4M390.2 221.8V231.2M388.2 221.8h4M388.2 231.2h4M393.1 221.6V231.1M391.1 221.6h4M391.1 231.1h4M396.1 221.3V231M394.1 221.3h4M394.1 231h4M399 221V230.9M397 221h4M397 230.9h4M402 220.7V230.7M400 220.7h4M400 230.7h4M404.9 220.3V230.4M402.9 220.3h4M402.9 230.4h4M407.9 219.9V230.2M405.9 219.9h4M405.9 230.2h4M410.8 219.4V229.9M408.8 219.4h4M408.8 229.9h4M413.8 219V229.6M411.8 219h4M411.8 229.6h4M416.7 218.6V229.4M414.7 218.6h4M414.7 229.4h4M419.6 218.1V229.2M417.6 218.1h4M417.6 229.2h4M422.6 217.5V229M420.6 217.5h4M420.6 229h4M425.5 217V228.8M423.5 217h4M423.5 228.8h4M428.5 216.5V228.6M426.5 216.5h4M426.5 228.6h4M431.4 216V228.4M429.4 216h4M429.4 228.4h4M434.4 215.4V228.2M432.4 215.4h4M432.4 228.2h4M437.3 214.8V227.9M435.3 214.8h4M435.3 227.9h4M440.2 214.3V227.7M438.2 214.3h4M438.2 227.7h4M443.2 213.7V227.3M441.2 213.7h4M441.2 227.3h4M446.1 213.2V226.8M444.1 213.2h4M444.1 226.8h4M449.1 212.6V226.3M447.1 212.6h4M447.1 226.3h4M452 212.1V225.8M450 212.1h4M450 225.8h4M455 211.6V225.3M453 211.6h4M453 225.3h4M457.9 211.1V224.9M455.9 211.1h4M455.9 224.9h4M460.9 210.6V224.4M458.9 210.6h4M458.9 224.4h4M463.8 210V223.8M461.8 210h4M461.8 223.8h4M466.7 209.3V223.2M464.7 209.3h4M464.7 223.2h4M469.7 208.5V222.4M467.7 208.5h4M467.7 222.4h4M472.6 207.6V221.6M470.6 207.6h4M470.6 221.6h4M475.6 206.8V220.9M473.6 206.8h4M473.6 220.9h4M478.5 205.9V220.3M476.5 205.9h4M476.5 220.3h4M481.5 205.1V219.7M479.5 205.1h4M479.5 219.7h4M484.4 204.2V219.2M482.4 204.2h4M482.4 219.2h4M487.3 203.3V218.6M485.3 203.3h4M485.3 218.6h4M490.3 202.4V218M488.3 202.4h4M488.3 218h4M493.2 201.5V217.4M491.2 201.5h4M491.2 217.4h4M496.2 200.5V216.7M494.2 200.5h4M494.2 216.7h4M499.1 199.5V216.1M497.1 199.5h4M497.1 216.1h4M502.1 198.3V215.4M500.1 198.3h4M500.1 215.4h4M505 197V214.7M503 197h4M503 214.7h4M507.9 195.7V213.9M505.9 195.7h4M505.9 213.9h4M510.9 194.4V213.2M508.9 194.4h4M508.9 213.2h4M513.8 193.1V212.4M511.8 193.1h4M511.8 212.4h4M516.8 191.8V211.6M514.8 191.8h4M514.8 211.6h4M519.7 190.3V210.7M517.7 190.3h4M517.7 210.7h4M522.7 188.9V209.4M520.7 188.9h4M520.7 209.4h4M525.6 187.6V208.2M523.6 187.6h4M523.6 208.2h4M528.6 186.9V207.5M526.6 186.9h4M526.6 207.5h4M531.5 186.1V206.9M529.5 186.1h4M529.5 206.9h4M534.4 185.2V206M532.4 185.2h4M532.4 206h4M537.4 184V205M535.4 184h4M535.4 205h4M540.3 182.6V203.6M538.3 182.6h4M538.3 203.6h4M543.3 181.2V201.9M541.3 181.2h4M541.3 201.9h4M546.2 179.6V200M544.2 179.6h4M544.2 200h4M549.2 177.9V198M547.2 177.9h4M547.2 198h4M552.1 176.2V196M550.1 176.2h4M550.1 196h4M555 174.4V193.9M553 174.4h4M553 193.9h4M558 172.2V191.4M556 172.2h4M556 191.4h4M560.9 169.8V188.5M558.9 169.8h4M558.9 188.5h4M563.9 166.9V184.6M561.9 166.9h4M561.9 184.6h4M566.8 164.1V180.7M564.8 164.1h4M564.8 180.7h4M569.8 160.6V176.2M567.8 160.6h4M567.8 176.2h4M572.7 156.7V171.3M570.7 156.7h4M570.7 171.3h4M575.7 153V166.6M573.7 153h4M573.7 166.6h4M578.6 148.2V160.9M576.6 148.2h4M576.6 160.9h4M581.5 142V154.4M579.5 142h4M579.5 154.4h4M584.5 135.3V147.5M582.5 135.3h4M582.5 147.5h4M587.4 127.4V139.3M585.4 127.4h4M585.4 139.3h4M590.4 118.6V130.1M588.4 118.6h4M588.4 130.1h4M593.3 110.4V121.7M591.3 110.4h4M591.3 121.7h4M596.3 103V113.9M594.3 103h4M594.3 113.9h4M599.2 96.3V106.9M597.2 96.3h4M597.2 106.9h4" stroke="#aaa" stroke-width="0.6" fill="none"/>
<circle cx="369.6" cy="228.1" r="1.25" fill="#e01818"/>
<circle cx="372.5" cy="227.8" r="1.25" fill="#e01818"/>
<circle cx="375.5" cy="227.6" r="1.25" fill="#e01818"/>
<circle cx="378.4" cy="227.3" r="1.25" fill="#e01818"/>
<circle cx="381.4" cy="227.1" r="1.25" fill="#e01818"/>
<circle cx="384.3" cy="226.9" r="1.25" fill="#e01818"/>
<circle cx="387.3" cy="226.7" r="1.25" fill="#e01818"/>
<circle cx="390.2" cy="226.5" r="1.25" fill="#e01818"/>
<circle cx="393.1" cy="226.4" r="1.25" fill="#e01818"/>
<circle cx="396.1" cy="226.2" r="1.25" fill="#e01818"/>
<circle cx="399" cy="225.9" r="1.25" fill="#e01818"/>
<circle cx="402" cy="225.7" r="1.25" fill="#e01818"/>
<circle cx="404.9" cy="225.4" r="1.25" fill="#e01818"/>
<circle cx="407.9" cy="225" r="1.25" fill="#e01818"/>
<circle cx="410.8" cy="224.7" r="1.25" fill="#e01818"/>
<circle cx="413.8" cy="224.3" r="1.25" fill="#e01818"/>
<circle cx="416.7" cy="224" r="1.25" fill="#e01818"/>
<circle cx="419.6" cy="223.6" r="1.25" fill="#e01818"/>
<circle cx="422.6" cy="223.3" r="1.25" fill="#e01818"/>
<circle cx="425.5" cy="222.9" r="1.25" fill="#e01818"/>
<circle cx="428.5" cy="222.6" r="1.25" fill="#e01818"/>
<circle cx="431.4" cy="222.2" r="1.25" fill="#e01818"/>
<circle cx="434.4" cy="221.8" r="1.25" fill="#e01818"/>
<circle cx="437.3" cy="221.4" r="1.25" fill="#e01818"/>
<circle cx="440.2" cy="221" r="1.25" fill="#e01818"/>
<circle cx="443.2" cy="220.5" r="1.25" fill="#e01818"/>
<circle cx="446.1" cy="220" r="1.25" fill="#e01818"/>
<circle cx="449.1" cy="219.5" r="1.25" fill="#e01818"/>
<circle cx="452" cy="218.9" r="1.25" fill="#e01818"/>
<circle cx="455" cy="218.5" r="1.25" fill="#e01818"/>
<circle cx="457.9" cy="218" r="1.25" fill="#e01818"/>
<circle cx="460.9" cy="217.5" r="1.25" fill="#e01818"/>
<circle cx="463.8" cy="216.9" r="1.25" fill="#e01818"/>
<circle cx="466.7" cy="216.2" r="1.25" fill="#e01818"/>
<circle cx="469.7" cy="215.4" r="1.25" fill="#e01818"/>
<circle cx="472.6" cy="214.6" r="1.25" fill="#e01818"/>
<circle cx="475.6" cy="213.9" r="1.25" fill="#e01818"/>
<circle cx="478.5" cy="213.1" r="1.25" fill="#e01818"/>
<circle cx="481.5" cy="212.4" r="1.25" fill="#e01818"/>
<circle cx="484.4" cy="211.7" r="1.25" fill="#e01818"/>
<circle cx="487.3" cy="210.9" r="1.25" fill="#e01818"/>
<circle cx="490.3" cy="210.2" r="1.25" fill="#e01818"/>
<circle cx="493.2" cy="209.4" r="1.25" fill="#e01818"/>
<circle cx="496.2" cy="208.6" r="1.25" fill="#e01818"/>
<circle cx="499.1" cy="207.8" r="1.25" fill="#e01818"/>
<circle cx="502.1" cy="206.9" r="1.25" fill="#e01818"/>
<circle cx="505" cy="205.9" r="1.25" fill="#e01818"/>
<circle cx="507.9" cy="204.8" r="1.25" fill="#e01818"/>
<circle cx="510.9" cy="203.8" r="1.25" fill="#e01818"/>
<circle cx="513.8" cy="202.7" r="1.25" fill="#e01818"/>
<circle cx="516.8" cy="201.7" r="1.25" fill="#e01818"/>
<circle cx="519.7" cy="200.5" r="1.25" fill="#e01818"/>
<circle cx="522.7" cy="199.1" r="1.25" fill="#e01818"/>
<circle cx="525.6" cy="197.9" r="1.25" fill="#e01818"/>
<circle cx="528.6" cy="197.2" r="1.25" fill="#e01818"/>
<circle cx="531.5" cy="196.5" r="1.25" fill="#e01818"/>
<circle cx="534.4" cy="195.6" r="1.25" fill="#e01818"/>
<circle cx="537.4" cy="194.5" r="1.25" fill="#e01818"/>
<circle cx="540.3" cy="193.1" r="1.25" fill="#e01818"/>
<circle cx="543.3" cy="191.5" r="1.25" fill="#e01818"/>
<circle cx="546.2" cy="189.8" r="1.25" fill="#e01818"/>
<circle cx="549.2" cy="188" r="1.25" fill="#e01818"/>
<circle cx="552.1" cy="186.1" r="1.25" fill="#e01818"/>
<circle cx="555" cy="184.1" r="1.25" fill="#e01818"/>
<circle cx="558" cy="181.8" r="1.25" fill="#e01818"/>
<circle cx="560.9" cy="179.2" r="1.25" fill="#e01818"/>
<circle cx="563.9" cy="175.8" r="1.25" fill="#e01818"/>
<circle cx="566.8" cy="172.4" r="1.25" fill="#e01818"/>
<circle cx="569.8" cy="168.4" r="1.25" fill="#e01818"/>
<circle cx="572.7" cy="164" r="1.25" fill="#e01818"/>
<circle cx="575.7" cy="159.8" r="1.25" fill="#e01818"/>
<circle cx="578.6" cy="154.5" r="1.25" fill="#e01818"/>
<circle cx="581.5" cy="148.2" r="1.25" fill="#e01818"/>
<circle cx="584.5" cy="141.4" r="1.25" fill="#e01818"/>
<circle cx="587.4" cy="133.4" r="1.25" fill="#e01818"/>
<circle cx="590.4" cy="124.3" r="1.25" fill="#e01818"/>
<circle cx="593.3" cy="116.1" r="1.25" fill="#e01818"/>
<circle cx="596.3" cy="108.4" r="1.25" fill="#e01818"/>
<circle cx="599.2" cy="101.6" r="1.25" fill="#e01818"/>
<text x="46" y="301" font-size="14" font-weight="bold">C</text>
<text x="184.8" y="315.2" font-size="17.3" font-weight="bold" text-anchor="middle">Random Forest</text>
<rect x="56.8" y="322.2" width="255.5" height="123.60000000000002" fill="none" stroke="#777" stroke-width="1"/>
<line x1="65.5" y1="445.8" x2="65.5" y2="448.3" stroke="#777"/>
<text x="65.5" y="458.7" font-size="11.2" font-weight="bold" text-anchor="middle">0</text>
<line x1="113.1" y1="445.8" x2="113.1" y2="448.3" stroke="#777"/>
<text x="113.1" y="458.7" font-size="11.2" font-weight="bold" text-anchor="middle">100</text>
<line x1="160.6" y1="445.8" x2="160.6" y2="448.3" stroke="#777"/>
<text x="160.6" y="458.7" font-size="11.2" font-weight="bold" text-anchor="middle">200</text>
<line x1="208.2" y1="445.8" x2="208.2" y2="448.3" stroke="#777"/>
<text x="208.2" y="458.7" font-size="11.2" font-weight="bold" text-anchor="middle">300</text>
<line x1="255.8" y1="445.8" x2="255.8" y2="448.3" stroke="#777"/>
<text x="255.8" y="458.7" font-size="11.2" font-weight="bold" text-anchor="middle">400</text>
<line x1="303.4" y1="445.8" x2="303.4" y2="448.3" stroke="#777"/>
<text x="303.4" y="458.7" font-size="11.2" font-weight="bold" text-anchor="middle">500</text>
<line x1="56.8" y1="441.3" x2="54.3" y2="441.3" stroke="#777"/>
<line x1="56.8" y1="424.2" x2="54.3" y2="424.2" stroke="#777"/>
<line x1="56.8" y1="407" x2="54.3" y2="407" stroke="#777"/>
<line x1="56.8" y1="389.9" x2="54.3" y2="389.9" stroke="#777"/>
<line x1="56.8" y1="372.7" x2="54.3" y2="372.7" stroke="#777"/>
<line x1="56.8" y1="355.6" x2="54.3" y2="355.6" stroke="#777"/>
<line x1="56.8" y1="338.4" x2="54.3" y2="338.4" stroke="#777"/>
<text transform="translate(48.7,441.3) rotate(-90)" font-size="11" font-weight="bold" text-anchor="middle">0.00</text>
<text transform="translate(48.7,407) rotate(-90)" font-size="11" font-weight="bold" text-anchor="middle">0.10</text>
<text transform="translate(48.7,372.7) rotate(-90)" font-size="11" font-weight="bold" text-anchor="middle">0.20</text>
<text transform="translate(48.7,338.4) rotate(-90)" font-size="11" font-weight="bold" text-anchor="middle">0.30</text>
<text transform="translate(37.3,395.4) rotate(-90)" font-size="11.5" font-weight="bold" text-anchor="middle">Error</text>
<text x="185" y="472.4" font-size="11.3" font-weight="bold" text-anchor="middle">trees</text>
<polyline points="66,389.9 66.5,389.9 66.5,400.1 66.9,400.1 66.9,389.9 67.4,389.9 67.4,396.7 67.9,396.7 67.9,407 68.4,407 68.4,393.3 68.8,393.3 68.8,403.6 69.3,403.6 69.3,412.8 70.3,412.8 70.3,417.3 71.2,417.3 71.2,412.8 72.2,412.8 72.2,422.1 73.1,422.1 73.1,412.8 74.1,412.8 74.1,422.1 76,422.1 76,412.8 77.4,412.8 77.4,404.6 78.3,404.6 78.3,422.1 79.3,422.1 79.3,404.6 80.2,404.6 80.2,412.8 80.7,412.8 80.7,393.6 81.7,393.6 81.7,404.6 82.6,404.6 82.6,412.8 83.6,412.8 83.6,404.6 84.5,404.6 84.5,412.8 85.5,412.8 85.5,404.6 86.9,404.6 86.9,412.8 87.9,412.8 87.9,422.1 88.8,422.1 88.8,412.8 89.3,412.8 89.3,422.1 90.2,422.1 90.2,412.8 90.7,412.8 90.7,422.1 93.1,422.1 93.1,412.8 96.9,412.8 96.9,404.6 97.4,404.6 97.4,412.8 97.8,412.8 97.8,404.6 98.8,404.6 98.8,412.8 99.3,412.8 99.3,404.6 99.8,404.6 99.8,412.8 100.2,412.8 100.2,404.6 100.7,404.6 100.7,412.8 101.2,412.8 101.2,404.6 102.1,404.6 102.1,412.8 102.6,412.8 102.6,404.6 103.6,404.6 103.6,412.8 104,412.8 104,404.6 105,404.6 105,412.8 105.5,412.8 105.5,404.6 106.4,404.6 106.4,412.8 106.9,412.8 106.9,404.6 107.8,404.6 107.8,412.8 123.5,412.8 123.5,404.6 124.5,404.6 124.5,412.8 174.9,412.8 174.9,422.1 175.4,422.1 175.4,412.8 179.7,412.8 179.7,422.1 184.9,422.1 184.9,412.8 185.4,412.8 185.4,422.1 193,422.1 193,412.8 193.9,412.8 193.9,422.1 197.3,422.1 197.3,412.8 255.8,412.8 255.8,422.1 256.3,422.1 256.3,412.8 270.1,412.8 270.1,422.1 272,422.1 272,412.8 272.9,412.8 272.9,422.1 289.1,422.1 289.1,412.8 303.4,412.8 303.4,412.8" fill="none" stroke="#111" stroke-width="1"/>
<polyline points="66,407 66.5,407 66.5,389.9 66.9,389.9 66.9,400.1 67.4,400.1 67.4,383 67.9,383 67.9,407 68.4,407 68.4,372.7 68.8,372.7 68.8,355.6 69.3,355.6 69.3,389.9 69.8,389.9 69.8,407 70.3,407 70.3,389.9 70.7,389.9 70.7,417.3 71.7,417.3 71.7,407 72.2,407 72.2,424.2 77.4,424.2 77.4,441.3 78.3,441.3 78.3,424.2 78.8,424.2 78.8,441.3 79.8,441.3 79.8,424.2 83.1,424.2 83.1,441.3 83.6,441.3 83.6,424.2 84.1,424.2 84.1,441.3 84.5,441.3 84.5,424.2 86.9,424.2 86.9,441.3 87.4,441.3 87.4,424.2 87.9,424.2 87.9,441.3 97.4,441.3 97.4,424.2 99.8,424.2 99.8,407 100.2,407 100.2,424.2 100.7,424.2 100.7,407 101.2,407 101.2,424.2 101.7,424.2 101.7,407 102.6,407 102.6,424.2 103.1,424.2 103.1,407 103.6,407 103.6,424.2 104,424.2 104,407 104.5,407 104.5,424.2 105,424.2 105,407 105.9,407 105.9,424.2 106.4,424.2 106.4,407 106.9,407 106.9,424.2 107.4,424.2 107.4,407 108.3,407 108.3,424.2 303.4,424.2 303.4,424.2" fill="none" stroke="#ee1c1c" stroke-width="1"/>
<polyline points="66,441.3 66.5,441.3 66.5,327.1 66.9,327.1 66.9,362.4 67.4,362.4 67.4,398.4 67.9,398.4 67.9,410.4 68.4,410.4 68.4,417.3 69.3,417.3 69.3,407 69.8,407 69.8,417.3 71.2,417.3 71.2,420.7 71.7,420.7 71.7,398.4 73.1,398.4 73.1,419.9 73.6,419.9 73.6,398.4 74.5,398.4 74.5,419.9 75,419.9 75,398.4 76,398.4 76,419.9 76.9,419.9 76.9,398.4 78.3,398.4 78.3,377 86.4,377 86.4,398.4 86.9,398.4 86.9,377 88.1,377 88.1,398.4 88.6,398.4 88.6,377 89.8,377 89.8,398.4 90.2,398.4 90.2,377 91.2,377 91.2,398.4 94,398.4 94,377 99.3,377 99.3,398.4 123.5,398.4 123.5,377 124.5,377 124.5,398.4 174.9,398.4 174.9,419.9 175.4,419.9 175.4,398.4 179.7,398.4 179.7,419.9 184.9,419.9 184.9,398.4 185.4,398.4 185.4,419.9 193,419.9 193,398.4 193.9,398.4 193.9,419.9 197.3,419.9 197.3,398.4 255.8,398.4 255.8,419.9 256.3,419.9 256.3,398.4 270.1,398.4 270.1,419.9 272,419.9 272,398.4 272.9,398.4 272.9,419.9 289.1,419.9 289.1,398.4 303.4,398.4 303.4,398.4" fill="none" stroke="#2020e0" stroke-width="1"/>
<text x="340" y="298.8" font-size="11.3" font-weight="bold">D</text>
<text x="483" y="310" font-size="11.9" font-weight="bold" text-anchor="middle">Random Forest</text>
<defs><linearGradient id="bg" x1="0" y1="0" x2="0" y2="1"><stop offset="0" stop-color="#3cd6cc"/><stop offset="0.35" stop-color="#17c0e0"/><stop offset="0.75" stop-color="#0b86dc"/><stop offset="1" stop-color="#0a6ccf"/></linearGradient></defs>
<rect x="378.70000000000005" y="326.1" width="208.5" height="6.8" fill="url(#bg)"/>
<text x="370.2" y="332.7" font-size="9.8" font-weight="bold" text-anchor="end">RPS12</text>
<rect x="378.70000000000005" y="344.7" width="147.1" height="6.8" fill="url(#bg)"/>
<text x="370.2" y="351.3" font-size="9.8" font-weight="bold" text-anchor="end">MX2</text>
<rect x="378.70000000000005" y="363.4" width="135.9" height="6.8" fill="url(#bg)"/>
<text x="370.2" y="370" font-size="9.8" font-weight="bold" text-anchor="end">OAS2</text>
<rect x="378.70000000000005" y="382" width="134.2" height="6.8" fill="url(#bg)"/>
<text x="370.2" y="388.6" font-size="9.8" font-weight="bold" text-anchor="end">BIRC3</text>
<rect x="378.70000000000005" y="400.6" width="119.5" height="6.8" fill="url(#bg)"/>
<text x="370.2" y="407.2" font-size="9.8" font-weight="bold" text-anchor="end">ADAR</text>
<rect x="378.70000000000005" y="419.3" width="113.9" height="6.8" fill="url(#bg)"/>
<text x="370.2" y="425.9" font-size="9.8" font-weight="bold" text-anchor="end">POLR2H</text>
<rect x="378.70000000000005" y="437.9" width="113.9" height="6.8" fill="url(#bg)"/>
<text x="370.2" y="444.5" font-size="9.8" font-weight="bold" text-anchor="end">RPL5</text>
<rect x="378.70000000000005" y="456.5" width="107.8" height="6.8" fill="url(#bg)"/>
<text x="370.2" y="463.1" font-size="9.8" font-weight="bold" text-anchor="end">IFI16</text>
<rect x="378.70000000000005" y="475.2" width="90.6" height="6.8" fill="url(#bg)"/>
<text x="370.2" y="481.8" font-size="9.8" font-weight="bold" text-anchor="end">IFIT2</text>
<rect x="378.70000000000005" y="493.8" width="74.2" height="6.8" fill="url(#bg)"/>
<text x="370.2" y="500.4" font-size="9.8" font-weight="bold" text-anchor="end">RPS5</text>
<rect x="378.70000000000005" y="512.4" width="66.8" height="6.8" fill="url(#bg)"/>
<text x="370.2" y="519" font-size="9.8" font-weight="bold" text-anchor="end">EIF3D</text>
<rect x="378.70000000000005" y="531" width="64.8" height="6.8" fill="url(#bg)"/>
<text x="370.2" y="537.6" font-size="9.8" font-weight="bold" text-anchor="end">TRAF3IP3</text>
<rect x="378.70000000000005" y="549.7" width="56.4" height="6.8" fill="url(#bg)"/>
<text x="370.2" y="556.3" font-size="9.8" font-weight="bold" text-anchor="end">ADARB1</text>
<rect x="378.70000000000005" y="568.3" width="54.1" height="6.8" fill="url(#bg)"/>
<text x="370.2" y="574.9" font-size="9.8" font-weight="bold" text-anchor="end">MX1</text>
<line x1="378.1" y1="320" x2="375.6" y2="320" stroke="#999" stroke-width="0.8"/>
<line x1="378.1" y1="338.6" x2="375.6" y2="338.6" stroke="#999" stroke-width="0.8"/>
<line x1="378.1" y1="357.3" x2="375.6" y2="357.3" stroke="#999" stroke-width="0.8"/>
<line x1="378.1" y1="375.9" x2="375.6" y2="375.9" stroke="#999" stroke-width="0.8"/>
<line x1="378.1" y1="394.5" x2="375.6" y2="394.5" stroke="#999" stroke-width="0.8"/>
<line x1="378.1" y1="413.1" x2="375.6" y2="413.1" stroke="#999" stroke-width="0.8"/>
<line x1="378.1" y1="431.8" x2="375.6" y2="431.8" stroke="#999" stroke-width="0.8"/>
<line x1="378.1" y1="450.4" x2="375.6" y2="450.4" stroke="#999" stroke-width="0.8"/>
<line x1="378.1" y1="469" x2="375.6" y2="469" stroke="#999" stroke-width="0.8"/>
<line x1="378.1" y1="487.7" x2="375.6" y2="487.7" stroke="#999" stroke-width="0.8"/>
<line x1="378.1" y1="506.3" x2="375.6" y2="506.3" stroke="#999" stroke-width="0.8"/>
<line x1="378.1" y1="524.9" x2="375.6" y2="524.9" stroke="#999" stroke-width="0.8"/>
<line x1="378.1" y1="543.6" x2="375.6" y2="543.6" stroke="#999" stroke-width="0.8"/>
<line x1="378.1" y1="562.2" x2="375.6" y2="562.2" stroke="#999" stroke-width="0.8"/>
<line x1="378.1" y1="580.8" x2="375.6" y2="580.8" stroke="#999" stroke-width="0.8"/>
<line x1="378.1" y1="320" x2="378.1" y2="580.8199999999999" stroke="#999" stroke-width="0.8"/>
<line x1="378.1" y1="580.8199999999999" x2="637.3000000000001" y2="580.8199999999999" stroke="#999" stroke-width="0.8"/>
<line x1="378.1" y1="580.8" x2="378.1" y2="583.3" stroke="#999" stroke-width="0.8"/>
<text x="378.1" y="596.5" font-size="9.8" font-weight="bold" text-anchor="middle">0</text>
<line x1="421.3" y1="580.8" x2="421.3" y2="583.3" stroke="#999" stroke-width="0.8"/>
<text x="421.3" y="596.5" font-size="9.8" font-weight="bold" text-anchor="middle">0.5</text>
<line x1="464.5" y1="580.8" x2="464.5" y2="583.3" stroke="#999" stroke-width="0.8"/>
<text x="464.5" y="596.5" font-size="9.8" font-weight="bold" text-anchor="middle">1</text>
<line x1="507.7" y1="580.8" x2="507.7" y2="583.3" stroke="#999" stroke-width="0.8"/>
<text x="507.7" y="596.5" font-size="9.8" font-weight="bold" text-anchor="middle">1.5</text>
<line x1="550.9" y1="580.8" x2="550.9" y2="583.3" stroke="#999" stroke-width="0.8"/>
<text x="550.9" y="596.5" font-size="9.8" font-weight="bold" text-anchor="middle">2</text>
<line x1="594.1" y1="580.8" x2="594.1" y2="583.3" stroke="#999" stroke-width="0.8"/>
<text x="594.1" y="596.5" font-size="9.8" font-weight="bold" text-anchor="middle">2.5</text>
<line x1="637.3" y1="580.8" x2="637.3" y2="583.3" stroke="#999" stroke-width="0.8"/>
<text x="637.3" y="596.5" font-size="9.8" font-weight="bold" text-anchor="middle">3</text>
<text x="507.5" y="611" font-size="11.2" font-weight="bold" text-anchor="middle">Importance</text>
<text x="52.3" y="501.7" font-size="13" font-weight="bold">E</text>
<circle cx="124.2" cy="569.4" r="57.2" fill="#8080ff"/>
<circle cx="200.1" cy="569.4" r="57.2" fill="#ffff80"/>
<clipPath id="cl"><circle cx="124.2" cy="569.4" r="57.2"/></clipPath>
<circle cx="200.1" cy="569.4" r="57.2" fill="#bfbf80" clip-path="url(#cl)"/>
<circle cx="124.2" cy="569.4" r="57.2" fill="none" stroke="#000" stroke-width="1.8"/>
<circle cx="200.1" cy="569.4" r="57.2" fill="none" stroke="#000" stroke-width="1.8"/>
<text x="121.5" y="505.3" font-size="11.3" font-weight="bold" text-anchor="middle">Lasso</text>
<text x="205" y="505.3" font-size="11.3" font-weight="bold" text-anchor="middle">Random forest</text>
<text x="116.3" y="564.9" font-size="11.6" fill="#333" text-anchor="middle">4</text>
<text x="116.3" y="582.3" font-size="11.6" fill="#333" text-anchor="middle">(28.6%)</text>
<text x="162.2" y="564.9" font-size="11.6" fill="#333" text-anchor="middle">7</text>
<text x="162.2" y="582.3" font-size="11.6" fill="#333" text-anchor="middle">(50.0%)</text>
<text x="207.2" y="564.9" font-size="11.6" fill="#333" text-anchor="middle">3</text>
<text x="207.2" y="582.3" font-size="11.6" fill="#333" text-anchor="middle">(21.4%)</text>
<text x="60.2" y="669.6" font-size="12.6" font-weight="bold">F</text>
<rect x="95.4" y="675.2" width="154" height="151.3" fill="none" stroke="#7a7a7a" stroke-width="0.9"/>
<line x1="95.4" y1="826.5" x2="249.4" y2="675.2" stroke="#5ea8d4" stroke-width="1.1"/>
<polyline points="102.1,819.8 102.1,750.9 116.1,750.9 116.1,742.3 123.1,742.3 123.1,707.8 130.1,707.8 130.1,699.2 165.1,699.2 165.1,690.6 179.2,690.6 179.2,682 242.2,682" fill="none" stroke="#dd5555" stroke-width="1.1"/>
<line x1="102.1" y1="826.5" x2="102.1" y2="828.5" stroke="#444" stroke-width="0.7"/>
<line x1="95.4" y1="819.8" x2="93.4" y2="819.8" stroke="#444" stroke-width="0.7"/>
<text x="102.1" y="836" font-size="7.6" fill="#404040" text-anchor="middle">0.00</text>
<text x="91.8" y="823" font-size="7.6" fill="#404040" text-anchor="end">0.00</text>
<line x1="137.1" y1="826.5" x2="137.1" y2="828.5" stroke="#444" stroke-width="0.7"/>
<line x1="95.4" y1="785.4" x2="93.4" y2="785.4" stroke="#444" stroke-width="0.7"/>
<text x="137.1" y="836" font-size="7.6" fill="#404040" text-anchor="middle">0.25</text>
<text x="91.8" y="788.6" font-size="7.6" fill="#404040" text-anchor="end">0.25</text>
<line x1="172.2" y1="826.5" x2="172.2" y2="828.5" stroke="#444" stroke-width="0.7"/>
<line x1="95.4" y1="750.9" x2="93.4" y2="750.9" stroke="#444" stroke-width="0.7"/>
<text x="172.2" y="836" font-size="7.6" fill="#404040" text-anchor="middle">0.50</text>
<text x="91.8" y="754.1" font-size="7.6" fill="#404040" text-anchor="end">0.50</text>
<line x1="207.2" y1="826.5" x2="207.2" y2="828.5" stroke="#444" stroke-width="0.7"/>
<line x1="95.4" y1="716.5" x2="93.4" y2="716.5" stroke="#444" stroke-width="0.7"/>
<text x="207.2" y="836" font-size="7.6" fill="#404040" text-anchor="middle">0.75</text>
<text x="91.8" y="719.7" font-size="7.6" fill="#404040" text-anchor="end">0.75</text>
<line x1="242.2" y1="826.5" x2="242.2" y2="828.5" stroke="#444" stroke-width="0.7"/>
<line x1="95.4" y1="682" x2="93.4" y2="682" stroke="#444" stroke-width="0.7"/>
<text x="242.2" y="836" font-size="7.6" fill="#404040" text-anchor="middle">1.00</text>
<text x="91.8" y="685.2" font-size="7.6" fill="#404040" text-anchor="end">1.00</text>
<text transform="translate(74.6,751.2) rotate(-90)" font-size="9.1" fill="#111" text-anchor="middle">True positive rate</text>
<text x="172.4" y="845.2" font-size="9.1" fill="#111" text-anchor="middle">False positive rate</text>
<text x="198.8" y="775.6" font-size="10.7" font-weight="bold" fill="#111" text-anchor="middle">IFI16</text>
<text x="172.5" y="785.6" font-size="9" fill="#222">AUC = 0.881</text>
<text x="172.5" y="792.5" font-size="9" fill="#222">CI = 0.771−0.991</text>
<rect x="283.5" y="675.2" width="154" height="151.3" fill="none" stroke="#7a7a7a" stroke-width="0.9"/>
<line x1="283.5" y1="826.5" x2="437.5" y2="675.2" stroke="#5ea8d4" stroke-width="1.1"/>
<polyline points="290.2,819.8 290.2,776.7 297.2,768.1 297.2,716.5 311.2,716.5 311.2,707.8 318.2,707.8 318.2,699.2 339.2,699.2 339.2,690.6 374.3,690.6 374.3,682 430.3,682" fill="none" stroke="#dd5555" stroke-width="1.1"/>
<line x1="290.2" y1="826.5" x2="290.2" y2="828.5" stroke="#444" stroke-width="0.7"/>
<line x1="283.5" y1="819.8" x2="281.5" y2="819.8" stroke="#444" stroke-width="0.7"/>
<text x="290.2" y="836" font-size="7.6" fill="#404040" text-anchor="middle">0.00</text>
<text x="279.9" y="823" font-size="7.6" fill="#404040" text-anchor="end">0.00</text>
<line x1="325.2" y1="826.5" x2="325.2" y2="828.5" stroke="#444" stroke-width="0.7"/>
<line x1="283.5" y1="785.4" x2="281.5" y2="785.4" stroke="#444" stroke-width="0.7"/>
<text x="325.2" y="836" font-size="7.6" fill="#404040" text-anchor="middle">0.25</text>
<text x="279.9" y="788.6" font-size="7.6" fill="#404040" text-anchor="end">0.25</text>
<line x1="360.2" y1="826.5" x2="360.2" y2="828.5" stroke="#444" stroke-width="0.7"/>
<line x1="283.5" y1="750.9" x2="281.5" y2="750.9" stroke="#444" stroke-width="0.7"/>
<text x="360.2" y="836" font-size="7.6" fill="#404040" text-anchor="middle">0.50</text>
<text x="279.9" y="754.1" font-size="7.6" fill="#404040" text-anchor="end">0.50</text>
<line x1="395.3" y1="826.5" x2="395.3" y2="828.5" stroke="#444" stroke-width="0.7"/>
<line x1="283.5" y1="716.5" x2="281.5" y2="716.5" stroke="#444" stroke-width="0.7"/>
<text x="395.3" y="836" font-size="7.6" fill="#404040" text-anchor="middle">0.75</text>
<text x="279.9" y="719.7" font-size="7.6" fill="#404040" text-anchor="end">0.75</text>
<line x1="430.3" y1="826.5" x2="430.3" y2="828.5" stroke="#444" stroke-width="0.7"/>
<line x1="283.5" y1="682" x2="281.5" y2="682" stroke="#444" stroke-width="0.7"/>
<text x="430.3" y="836" font-size="7.6" fill="#404040" text-anchor="middle">1.00</text>
<text x="279.9" y="685.2" font-size="7.6" fill="#404040" text-anchor="end">1.00</text>
<text transform="translate(262.7,751.2) rotate(-90)" font-size="9.1" fill="#111" text-anchor="middle">True positive rate</text>
<text x="360.5" y="845.2" font-size="9.1" fill="#111" text-anchor="middle">False positive rate</text>
<text x="384.3" y="775.6" font-size="10.7" font-weight="bold" fill="#111" text-anchor="middle">MX2</text>
<text x="360.6" y="785.6" font-size="9" fill="#222">AUC = 0.898</text>
<text x="360.6" y="792.5" font-size="9" fill="#222">CI = 0.794−1</text>
<rect x="471.6" y="675.2" width="154" height="151.3" fill="none" stroke="#7a7a7a" stroke-width="0.9"/>
<line x1="471.6" y1="826.5" x2="625.6" y2="675.2" stroke="#5ea8d4" stroke-width="1.1"/>
<polyline points="478.3,819.8 478.3,794 485.3,794 485.3,750.9 492.3,750.9 492.3,742.3 513.3,742.3 513.3,725.1 534.3,725.1 534.3,716.5 555.4,716.5 555.4,699.2 604.4,699.2 604.4,690.6 611.4,690.6 611.4,682 618.4,682" fill="none" stroke="#dd5555" stroke-width="1.1"/>
<line x1="478.3" y1="826.5" x2="478.3" y2="828.5" stroke="#444" stroke-width="0.7"/>
<line x1="471.6" y1="819.8" x2="469.6" y2="819.8" stroke="#444" stroke-width="0.7"/>
<text x="478.3" y="836" font-size="7.6" fill="#404040" text-anchor="middle">0.00</text>
<text x="468" y="823" font-size="7.6" fill="#404040" text-anchor="end">0.00</text>
<line x1="513.3" y1="826.5" x2="513.3" y2="828.5" stroke="#444" stroke-width="0.7"/>
<line x1="471.6" y1="785.4" x2="469.6" y2="785.4" stroke="#444" stroke-width="0.7"/>
<text x="513.3" y="836" font-size="7.6" fill="#404040" text-anchor="middle">0.25</text>
<text x="468" y="788.6" font-size="7.6" fill="#404040" text-anchor="end">0.25</text>
<line x1="548.4" y1="826.5" x2="548.4" y2="828.5" stroke="#444" stroke-width="0.7"/>
<line x1="471.6" y1="750.9" x2="469.6" y2="750.9" stroke="#444" stroke-width="0.7"/>
<text x="548.4" y="836" font-size="7.6" fill="#404040" text-anchor="middle">0.50</text>
<text x="468" y="754.1" font-size="7.6" fill="#404040" text-anchor="end">0.50</text>
<line x1="583.4" y1="826.5" x2="583.4" y2="828.5" stroke="#444" stroke-width="0.7"/>
<line x1="471.6" y1="716.5" x2="469.6" y2="716.5" stroke="#444" stroke-width="0.7"/>
<text x="583.4" y="836" font-size="7.6" fill="#404040" text-anchor="middle">0.75</text>
<text x="468" y="719.7" font-size="7.6" fill="#404040" text-anchor="end">0.75</text>
<line x1="618.4" y1="826.5" x2="618.4" y2="828.5" stroke="#444" stroke-width="0.7"/>
<line x1="471.6" y1="682" x2="469.6" y2="682" stroke="#444" stroke-width="0.7"/>
<text x="618.4" y="836" font-size="7.6" fill="#404040" text-anchor="middle">1.00</text>
<text x="468" y="685.2" font-size="7.6" fill="#404040" text-anchor="end">1.00</text>
<text transform="translate(450.8,751.2) rotate(-90)" font-size="9.1" fill="#111" text-anchor="middle">True positive rate</text>
<text x="548.6" y="845.2" font-size="9.1" fill="#111" text-anchor="middle">False positive rate</text>
<text x="574" y="775.6" font-size="10.7" font-weight="bold" fill="#111" text-anchor="middle">RPS5</text>
<text x="548.7" y="785.6" font-size="9" fill="#222">AUC = 0.737</text>
<text x="548.7" y="792.5" font-size="9" fill="#222">CI = 0.56−0.915</text>
<rect x="95.4" y="863.4" width="154" height="151.3" fill="none" stroke="#7a7a7a" stroke-width="0.9"/>
<line x1="95.4" y1="1014.7" x2="249.4" y2="863.4" stroke="#5ea8d4" stroke-width="1.1"/>
<polyline points="102.1,1008 102.1,947.7 109.1,947.7 116.1,939.1 116.1,921.9 123.1,921.9 123.1,896 137.1,896 137.1,878.8 214.2,878.8 214.2,870.2 242.2,870.2" fill="none" stroke="#dd5555" stroke-width="1.1"/>
<line x1="102.1" y1="1014.7" x2="102.1" y2="1016.7" stroke="#444" stroke-width="0.7"/>
<line x1="95.4" y1="1008" x2="93.4" y2="1008" stroke="#444" stroke-width="0.7"/>
<text x="102.1" y="1024.2" font-size="7.6" fill="#404040" text-anchor="middle">0.00</text>
<text x="91.8" y="1011.2" font-size="7.6" fill="#404040" text-anchor="end">0.00</text>
<line x1="137.1" y1="1014.7" x2="137.1" y2="1016.7" stroke="#444" stroke-width="0.7"/>
<line x1="95.4" y1="973.5" x2="93.4" y2="973.5" stroke="#444" stroke-width="0.7"/>
<text x="137.1" y="1024.2" font-size="7.6" fill="#404040" text-anchor="middle">0.25</text>
<text x="91.8" y="976.8" font-size="7.6" fill="#404040" text-anchor="end">0.25</text>
<line x1="172.2" y1="1014.7" x2="172.2" y2="1016.7" stroke="#444" stroke-width="0.7"/>
<line x1="95.4" y1="939.1" x2="93.4" y2="939.1" stroke="#444" stroke-width="0.7"/>
<text x="172.2" y="1024.2" font-size="7.6" fill="#404040" text-anchor="middle">0.50</text>
<text x="91.8" y="942.3" font-size="7.6" fill="#404040" text-anchor="end">0.50</text>
<line x1="207.2" y1="1014.7" x2="207.2" y2="1016.7" stroke="#444" stroke-width="0.7"/>
<line x1="95.4" y1="904.6" x2="93.4" y2="904.6" stroke="#444" stroke-width="0.7"/>
<text x="207.2" y="1024.2" font-size="7.6" fill="#404040" text-anchor="middle">0.75</text>
<text x="91.8" y="907.9" font-size="7.6" fill="#404040" text-anchor="end">0.75</text>
<line x1="242.2" y1="1014.7" x2="242.2" y2="1016.7" stroke="#444" stroke-width="0.7"/>
<line x1="95.4" y1="870.2" x2="93.4" y2="870.2" stroke="#444" stroke-width="0.7"/>
<text x="242.2" y="1024.2" font-size="7.6" fill="#404040" text-anchor="middle">1.00</text>
<text x="91.8" y="873.4" font-size="7.6" fill="#404040" text-anchor="end">1.00</text>
<text transform="translate(74.6,939.4) rotate(-90)" font-size="9.1" fill="#111" text-anchor="middle">True positive rate</text>
<text x="172.4" y="1033.4" font-size="9.1" fill="#111" text-anchor="middle">False positive rate</text>
<text x="200.2" y="963.8" font-size="10.7" font-weight="bold" fill="#111" text-anchor="middle">RPL5</text>
<text x="172.5" y="973.8" font-size="9" fill="#222">AUC = 0.873</text>
<text x="172.5" y="980.7" font-size="9" fill="#222">CI = 0.751−0.996</text>
<rect x="283.5" y="863.4" width="154" height="151.3" fill="none" stroke="#7a7a7a" stroke-width="0.9"/>
<line x1="283.5" y1="1014.7" x2="437.5" y2="863.4" stroke="#5ea8d4" stroke-width="1.1"/>
<polyline points="290.2,1008 290.2,964.9 311.2,964.9 311.2,939.1 325.2,939.1 325.2,930.5 339.2,930.5 339.2,913.3 346.2,913.3 346.2,878.8 388.3,878.8 388.3,870.2 430.3,870.2" fill="none" stroke="#dd5555" stroke-width="1.1"/>
<line x1="290.2" y1="1014.7" x2="290.2" y2="1016.7" stroke="#444" stroke-width="0.7"/>
<line x1="283.5" y1="1008" x2="281.5" y2="1008" stroke="#444" stroke-width="0.7"/>
<text x="290.2" y="1024.2" font-size="7.6" fill="#404040" text-anchor="middle">0.00</text>
<text x="279.9" y="1011.2" font-size="7.6" fill="#404040" text-anchor="end">0.00</text>
<line x1="325.2" y1="1014.7" x2="325.2" y2="1016.7" stroke="#444" stroke-width="0.7"/>
<line x1="283.5" y1="973.5" x2="281.5" y2="973.5" stroke="#444" stroke-width="0.7"/>
<text x="325.2" y="1024.2" font-size="7.6" fill="#404040" text-anchor="middle">0.25</text>
<text x="279.9" y="976.8" font-size="7.6" fill="#404040" text-anchor="end">0.25</text>
<line x1="360.2" y1="1014.7" x2="360.2" y2="1016.7" stroke="#444" stroke-width="0.7"/>
<line x1="283.5" y1="939.1" x2="281.5" y2="939.1" stroke="#444" stroke-width="0.7"/>
<text x="360.2" y="1024.2" font-size="7.6" fill="#404040" text-anchor="middle">0.50</text>
<text x="279.9" y="942.3" font-size="7.6" fill="#404040" text-anchor="end">0.50</text>
<line x1="395.3" y1="1014.7" x2="395.3" y2="1016.7" stroke="#444" stroke-width="0.7"/>
<line x1="283.5" y1="904.6" x2="281.5" y2="904.6" stroke="#444" stroke-width="0.7"/>
<text x="395.3" y="1024.2" font-size="7.6" fill="#404040" text-anchor="middle">0.75</text>
<text x="279.9" y="907.9" font-size="7.6" fill="#404040" text-anchor="end">0.75</text>
<line x1="430.3" y1="1014.7" x2="430.3" y2="1016.7" stroke="#444" stroke-width="0.7"/>
<line x1="283.5" y1="870.2" x2="281.5" y2="870.2" stroke="#444" stroke-width="0.7"/>
<text x="430.3" y="1024.2" font-size="7.6" fill="#404040" text-anchor="middle">1.00</text>
<text x="279.9" y="873.4" font-size="7.6" fill="#404040" text-anchor="end">1.00</text>
<text transform="translate(262.7,939.4) rotate(-90)" font-size="9.1" fill="#111" text-anchor="middle">True positive rate</text>
<text x="360.5" y="1033.4" font-size="9.1" fill="#111" text-anchor="middle">False positive rate</text>
<text x="382.1" y="963.8" font-size="10.7" font-weight="bold" fill="#111" text-anchor="middle">IFIT2</text>
<text x="360.6" y="973.8" font-size="9" fill="#222">AUC = 0.769</text>
<text x="360.6" y="980.7" font-size="9" fill="#222">CI = 0.614−0.924</text>
<rect x="471.6" y="863.4" width="154" height="151.3" fill="none" stroke="#7a7a7a" stroke-width="0.9"/>
<line x1="471.6" y1="1014.7" x2="625.6" y2="863.4" stroke="#5ea8d4" stroke-width="1.1"/>
<polyline points="478.3,1008 478.3,990.8 485.3,990.8 485.3,930.5 492.3,921.9 499.3,921.9 499.3,913.3 506.3,913.3 506.3,896 513.3,896 513.3,878.8 541.3,878.8 541.3,870.2 618.4,870.2" fill="none" stroke="#dd5555" stroke-width="1.1"/>
<line x1="478.3" y1="1014.7" x2="478.3" y2="1016.7" stroke="#444" stroke-width="0.7"/>
<line x1="471.6" y1="1008" x2="469.6" y2="1008" stroke="#444" stroke-width="0.7"/>
<text x="478.3" y="1024.2" font-size="7.6" fill="#404040" text-anchor="middle">0.00</text>
<text x="468" y="1011.2" font-size="7.6" fill="#404040" text-anchor="end">0.00</text>
<line x1="513.3" y1="1014.7" x2="513.3" y2="1016.7" stroke="#444" stroke-width="0.7"/>
<line x1="471.6" y1="973.5" x2="469.6" y2="973.5" stroke="#444" stroke-width="0.7"/>
<text x="513.3" y="1024.2" font-size="7.6" fill="#404040" text-anchor="middle">0.25</text>
<text x="468" y="976.8" font-size="7.6" fill="#404040" text-anchor="end">0.25</text>
<line x1="548.4" y1="1014.7" x2="548.4" y2="1016.7" stroke="#444" stroke-width="0.7"/>
<line x1="471.6" y1="939.1" x2="469.6" y2="939.1" stroke="#444" stroke-width="0.7"/>
<text x="548.4" y="1024.2" font-size="7.6" fill="#404040" text-anchor="middle">0.50</text>
<text x="468" y="942.3" font-size="7.6" fill="#404040" text-anchor="end">0.50</text>
<line x1="583.4" y1="1014.7" x2="583.4" y2="1016.7" stroke="#444" stroke-width="0.7"/>
<line x1="471.6" y1="904.6" x2="469.6" y2="904.6" stroke="#444" stroke-width="0.7"/>
<text x="583.4" y="1024.2" font-size="7.6" fill="#404040" text-anchor="middle">0.75</text>
<text x="468" y="907.9" font-size="7.6" fill="#404040" text-anchor="end">0.75</text>
<line x1="618.4" y1="1014.7" x2="618.4" y2="1016.7" stroke="#444" stroke-width="0.7"/>
<line x1="471.6" y1="870.2" x2="469.6" y2="870.2" stroke="#444" stroke-width="0.7"/>
<text x="618.4" y="1024.2" font-size="7.6" fill="#404040" text-anchor="middle">1.00</text>
<text x="468" y="873.4" font-size="7.6" fill="#404040" text-anchor="end">1.00</text>
<text transform="translate(450.8,939.4) rotate(-90)" font-size="9.1" fill="#111" text-anchor="middle">True positive rate</text>
<text x="548.6" y="1033.4" font-size="9.1" fill="#111" text-anchor="middle">False positive rate</text>
<text x="574" y="963.8" font-size="10.7" font-weight="bold" fill="#111" text-anchor="middle">POLR2H</text>
<text x="548.7" y="973.8" font-size="9" fill="#222">AUC = 0.88</text>
<text x="548.7" y="980.7" font-size="9" fill="#222">CI = 0.766−0.993</text>
<rect x="95.4" y="1051.6" width="154" height="151.3" fill="none" stroke="#7a7a7a" stroke-width="0.9"/>
<line x1="95.4" y1="1202.9" x2="249.4" y2="1051.6" stroke="#5ea8d4" stroke-width="1.1"/>
<polyline points="102.1,1196.2 102.1,1135.9 109.1,1135.9 109.1,1127.3 123.1,1127.3 123.1,1118.7 130.1,1118.7 130.1,1101.5 137.1,1092.8 144.1,1092.8 144.1,1075.6 151.1,1075.6 151.1,1058.4 242.2,1058.4" fill="none" stroke="#dd5555" stroke-width="1.1"/>
<line x1="102.1" y1="1202.9" x2="102.1" y2="1204.9" stroke="#444" stroke-width="0.7"/>
<line x1="95.4" y1="1196.2" x2="93.4" y2="1196.2" stroke="#444" stroke-width="0.7"/>
<text x="102.1" y="1212.4" font-size="7.6" fill="#404040" text-anchor="middle">0.00</text>
<text x="91.8" y="1199.4" font-size="7.6" fill="#404040" text-anchor="end">0.00</text>
<line x1="137.1" y1="1202.9" x2="137.1" y2="1204.9" stroke="#444" stroke-width="0.7"/>
<line x1="95.4" y1="1161.7" x2="93.4" y2="1161.7" stroke="#444" stroke-width="0.7"/>
<text x="137.1" y="1212.4" font-size="7.6" fill="#404040" text-anchor="middle">0.25</text>
<text x="91.8" y="1164.9" font-size="7.6" fill="#404040" text-anchor="end">0.25</text>
<line x1="172.2" y1="1202.9" x2="172.2" y2="1204.9" stroke="#444" stroke-width="0.7"/>
<line x1="95.4" y1="1127.3" x2="93.4" y2="1127.3" stroke="#444" stroke-width="0.7"/>
<text x="172.2" y="1212.4" font-size="7.6" fill="#404040" text-anchor="middle">0.50</text>
<text x="91.8" y="1130.5" font-size="7.6" fill="#404040" text-anchor="end">0.50</text>
<line x1="207.2" y1="1202.9" x2="207.2" y2="1204.9" stroke="#444" stroke-width="0.7"/>
<line x1="95.4" y1="1092.8" x2="93.4" y2="1092.8" stroke="#444" stroke-width="0.7"/>
<text x="207.2" y="1212.4" font-size="7.6" fill="#404040" text-anchor="middle">0.75</text>
<text x="91.8" y="1096" font-size="7.6" fill="#404040" text-anchor="end">0.75</text>
<line x1="242.2" y1="1202.9" x2="242.2" y2="1204.9" stroke="#444" stroke-width="0.7"/>
<line x1="95.4" y1="1058.4" x2="93.4" y2="1058.4" stroke="#444" stroke-width="0.7"/>
<text x="242.2" y="1212.4" font-size="7.6" fill="#404040" text-anchor="middle">1.00</text>
<text x="91.8" y="1061.6" font-size="7.6" fill="#404040" text-anchor="end">1.00</text>
<text transform="translate(74.6,1127.6) rotate(-90)" font-size="9.1" fill="#111" text-anchor="middle">True positive rate</text>
<text x="172.4" y="1221.6" font-size="9.1" fill="#111" text-anchor="middle">False positive rate</text>
<text x="201.6" y="1152" font-size="10.7" font-weight="bold" fill="#111" text-anchor="middle">ADAR</text>
<text x="172.5" y="1162" font-size="9" fill="#222">AUC = 0.867</text>
<text x="172.5" y="1168.9" font-size="9" fill="#222">CI = 0.753−0.981</text>
</svg></body></html>
